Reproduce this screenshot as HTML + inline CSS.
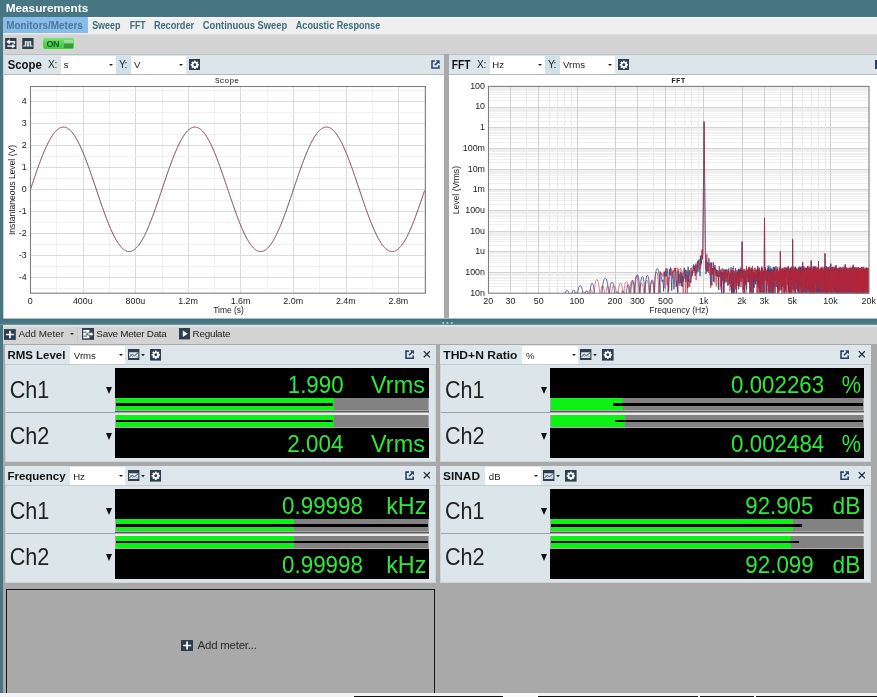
<!DOCTYPE html>
<html><head><meta charset="utf-8"><title>Measurements</title>
<style>
html,body{margin:0;padding:0;}
body{width:877px;height:697px;overflow:hidden;background:#a9a9a9;font-family:"Liberation Sans",sans-serif;position:relative;}
#app{position:absolute;left:0;top:0;width:877px;height:697px;overflow:hidden;background:#a9a9a9;}
.b{position:absolute;box-sizing:border-box;}
.t{position:absolute;white-space:pre;}
svg{position:absolute;left:0;top:0;}
</style></head><body><div id="app">

<div class="b" style="left:0.00px;top:0.00px;width:877.00px;height:17.20px;background:#487783;"></div>
<span class="t" style="left:5px;top:2px;font-size:11.6px;line-height:11.6px;color:#fff;transform-origin:0 0;transform:translate(0.63px,0.18px) scaleX(1.0177);font-weight:bold;">Measurements</span>
<div class="b" style="left:0.00px;top:17.00px;width:3.00px;height:676.00px;background:#487783;"></div>
<div class="b" style="left:3.00px;top:17.20px;width:874.00px;height:16.20px;background:linear-gradient(#f8fbfc 0,#efefef 2.2px);"></div>
<div class="b" style="left:3.00px;top:17.20px;width:85.00px;height:16.20px;background:#88bcea;"></div>
<span class="t" style="left:6px;top:21px;font-size:10.2px;line-height:10.2px;color:#4f7796;transform-origin:0 0;transform:translate(0.15px,0.27px) scaleX(0.9746);font-weight:bold;">Monitors/Meters</span>
<span class="t" style="left:92px;top:21px;font-size:10.2px;line-height:10.2px;color:#3e6b7d;transform-origin:0 0;transform:translate(0.13px,0.27px) scaleX(0.8806);font-weight:bold;">Sweep</span>
<span class="t" style="left:129px;top:21px;font-size:10.2px;line-height:10.2px;color:#3e6b7d;transform-origin:0 0;transform:translate(0.64px,0.27px) scaleX(0.8435);font-weight:bold;">FFT</span>
<span class="t" style="left:153px;top:21px;font-size:10.2px;line-height:10.2px;color:#3e6b7d;transform-origin:0 0;transform:translate(0.90px,0.27px) scaleX(0.8985);font-weight:bold;">Recorder</span>
<span class="t" style="left:202px;top:21px;font-size:10.2px;line-height:10.2px;color:#3e6b7d;transform-origin:0 0;transform:translate(0.82px,0.27px) scaleX(0.9210);font-weight:bold;">Continuous Sweep</span>
<span class="t" style="left:295px;top:21px;font-size:10.2px;line-height:10.2px;color:#3e6b7d;transform-origin:0 0;transform:translate(0.77px,0.27px) scaleX(0.8932);font-weight:bold;">Acoustic Response</span>
<div class="b" style="left:3.00px;top:33.40px;width:874.00px;height:21.00px;background:linear-gradient(#f0f0f0 0,#d3d3d3 2.6px);"></div>
<svg style="left:5.1px;top:38.2px" width="11.6" height="11.3" viewBox="0 0 12 12"><rect width="12" height="12" fill="#2c3e50"/><path d="M3 4H9.8V6.4" stroke="#fff" stroke-width="1.5" fill="none"/><path d="M4.8 1.2L1.2 4L4.8 6.8Z" fill="#fff"/><path d="M9.2 8.6H2.2" stroke="#fff" stroke-width="1.5" fill="none"/><path d="M7.4 6L11 8.6L7.4 11.2Z" fill="#fff"/></svg>
<svg style="left:22.1px;top:38.2px" width="11.8" height="11.3" viewBox="0 0 12 12"><rect width="12" height="12" fill="#2c3e50"/><path d="M1.2 8.4H3.3V3.9H5.3V8.4H6.9V3.9H8.9V8.4H10.8" stroke="#fff" stroke-width="1.1" fill="none"/></svg>
<div class="b" style="left:41.8px;top:37.8px;width:33.6px;height:11.8px;background:#bfe9bd;border-radius:3px;"></div>
<div class="b" style="left:42.6px;top:38.4px;width:31.8px;height:10.6px;background:linear-gradient(#7fe07c,#52cf52 55%,#48c848);border-radius:2px;"></div>
<div class="b" style="left:63.7px;top:40.3px;width:9.7px;height:7.7px;background:linear-gradient(#a3e29e 0,#8fd98a 40%,#3f9f40 46%,#3a973b 100%);"></div>
<span class="t" style="left:46.4px;top:39.7px;font-size:9px;line-height:9px;font-weight:bold;color:#0d5a1a;letter-spacing:-0.3px;">ON</span>
<div class="b" style="left:4.40px;top:54.40px;width:440.10px;height:263.80px;background:#fff;"></div>
<div class="b" style="left:4.40px;top:54.40px;width:440.10px;height:20.60px;background:#dce6ea;border-bottom:1px solid #b2babd;border-top:1px solid #b9c0c3;"></div>
<span class="t" style="left:7px;top:58px;font-size:12.4px;line-height:12.4px;color:#111;transform-origin:0 0;transform:translate(0.66px,0.50px) scaleX(0.9177);font-weight:bold;">Scope</span>
<span class="t" style="left:47px;top:59px;font-size:10.2px;line-height:10.2px;color:#222;transform:translate(0.95px,0.67px);letter-spacing:-0.215px;">X:</span>
<div class="b" style="left:60.50px;top:56.40px;width:55.50px;height:17.90px;background:#fff;"></div>
<span class="t" style="left:63px;top:60px;font-size:9.6px;line-height:9.6px;color:#222;transform:translate(0.71px,0.27px);">s</span>
<div class="b" style="left:109.2px;top:63.8px;width:0;height:0;border-left:2px solid transparent;border-right:2px solid transparent;border-top:2.5px solid #222;"></div>
<div class="b" style="left:116.00px;top:56.40px;width:14.50px;height:17.90px;background:#d1e1ea;"></div>
<span class="t" style="left:118px;top:59px;font-size:10.2px;line-height:10.2px;color:#222;transform:translate(0.95px,0.67px);letter-spacing:-0.754px;">Y:</span>
<div class="b" style="left:130.50px;top:56.40px;width:55.50px;height:17.90px;background:#fff;"></div>
<span class="t" style="left:133px;top:60px;font-size:9.6px;line-height:9.6px;color:#222;transform:translate(0.95px,0.27px);">V</span>
<div class="b" style="left:179.2px;top:63.8px;width:0;height:0;border-left:2px solid transparent;border-right:2px solid transparent;border-top:2.5px solid #222;"></div>
<svg style="left:188.8px;top:58.9px" width="11.6" height="11.6" viewBox="0 0 12 12"><rect width="12" height="12" fill="#2c3e50"/><rect x="5.1" y="1.7" width="1.8" height="8.6" fill="#fff" transform="rotate(0 6 6)"/><rect x="5.1" y="1.7" width="1.8" height="8.6" fill="#fff" transform="rotate(45 6 6)"/><rect x="5.1" y="1.7" width="1.8" height="8.6" fill="#fff" transform="rotate(90 6 6)"/><rect x="5.1" y="1.7" width="1.8" height="8.6" fill="#fff" transform="rotate(135 6 6)"/><circle cx="6" cy="6" r="3.2" fill="#fff"/><circle cx="6" cy="6" r="1.5" fill="#2c3e50"/></svg>
<div class="b" style="left:448.50px;top:54.40px;width:430.00px;height:263.80px;background:#fff;"></div>
<div class="b" style="left:448.50px;top:54.40px;width:430.00px;height:20.60px;background:#dce6ea;border-bottom:1px solid #b2babd;border-top:1px solid #b9c0c3;"></div>
<span class="t" style="left:451px;top:58px;font-size:12.4px;line-height:12.4px;color:#111;transform-origin:0 0;transform:translate(0.84px,0.50px) scaleX(0.8179);font-weight:bold;">FFT</span>
<span class="t" style="left:476px;top:59px;font-size:10.2px;line-height:10.2px;color:#222;transform:translate(0.94px,0.67px);letter-spacing:-0.215px;">X:</span>
<div class="b" style="left:489.50px;top:56.40px;width:55.50px;height:17.90px;background:#fff;"></div>
<span class="t" style="left:492px;top:60px;font-size:9.6px;line-height:9.6px;color:#222;transform:translate(0.23px,0.27px);">Hz</span>
<div class="b" style="left:538.2px;top:63.8px;width:0;height:0;border-left:2px solid transparent;border-right:2px solid transparent;border-top:2.5px solid #222;"></div>
<div class="b" style="left:545.00px;top:56.40px;width:14.50px;height:17.90px;background:#d1e1ea;"></div>
<span class="t" style="left:547px;top:59px;font-size:10.2px;line-height:10.2px;color:#222;transform:translate(0.95px,0.67px);letter-spacing:-0.754px;">Y:</span>
<div class="b" style="left:559.50px;top:56.40px;width:55.50px;height:17.90px;background:#fff;"></div>
<span class="t" style="left:562px;top:60px;font-size:9.6px;line-height:9.6px;color:#222;transform:translate(0.95px,0.27px);">Vrms</span>
<div class="b" style="left:608.2px;top:63.8px;width:0;height:0;border-left:2px solid transparent;border-right:2px solid transparent;border-top:2.5px solid #222;"></div>
<svg style="left:617.8px;top:58.9px" width="11.6" height="11.6" viewBox="0 0 12 12"><rect width="12" height="12" fill="#2c3e50"/><rect x="5.1" y="1.7" width="1.8" height="8.6" fill="#fff" transform="rotate(0 6 6)"/><rect x="5.1" y="1.7" width="1.8" height="8.6" fill="#fff" transform="rotate(45 6 6)"/><rect x="5.1" y="1.7" width="1.8" height="8.6" fill="#fff" transform="rotate(90 6 6)"/><rect x="5.1" y="1.7" width="1.8" height="8.6" fill="#fff" transform="rotate(135 6 6)"/><circle cx="6" cy="6" r="3.2" fill="#fff"/><circle cx="6" cy="6" r="1.5" fill="#2c3e50"/></svg>
<svg style="left:430.5px;top:60.4px" width="9.0" height="9.0" viewBox="0 0 10 10"><path d="M4.2 1.2H1.1V8.9H8.8V5.8" fill="none" stroke="#284068" stroke-width="1.7"/><path d="M4.3 5.7L8.6 1.4" stroke="#284068" stroke-width="1.7" fill="none"/><path d="M5.3 0.4H9.6V4.7Z" fill="#284068"/></svg>
<div class="b" style="left:875.00px;top:60.00px;width:2.00px;height:8.80px;background:#284068;"></div>
<div class="b" style="left:3.00px;top:54.00px;width:1.40px;height:265.00px;background:#c3d3d9;"></div>
<div class="b" style="left:3.00px;top:318.00px;width:874.00px;height:1.00px;background:#b4babd;"></div>
<div class="b" style="left:0.00px;top:319.00px;width:877.00px;height:6.00px;background:linear-gradient(#42707c 0,#4d7b88 5px,#86a6b0 6px);"></div>
<div class="b" style="left:3.00px;top:325.00px;width:874.00px;height:19.20px;background:#d3d3d3;border-top:2px solid #dde5e8;"></div>
<span class="t" style="left:18px;top:328px;font-size:9.9px;line-height:9.9px;color:#222;transform:translate(0.50px,0.62px);">Add Meter</span>
<span class="t" style="left:96px;top:328px;font-size:9.9px;line-height:9.9px;color:#222;transform:translate(0.35px,0.62px);letter-spacing:-0.257px;">Save Meter Data</span>
<span class="t" style="left:192px;top:328px;font-size:9.9px;line-height:9.9px;color:#222;transform:translate(0.51px,0.62px);letter-spacing:-0.238px;">Regulate</span>
<div class="b" style="left:69.5px;top:333px;width:0;height:0;border-left:2.2px solid transparent;border-right:2.2px solid transparent;border-top:2.6px solid #222;"></div>
<div class="b" style="left:77.00px;top:327.00px;width:1.00px;height:15.00px;background:#c8c8c8;"></div>
<svg style="left:4px;top:328.5px" width="11.8" height="11" viewBox="0 0 12 11"><rect width="12" height="11" fill="#2c3e50"/><path d="M6 1.6V9.4M2 5.5H10" stroke="#fff" stroke-width="1.7"/></svg>
<svg style="left:82px;top:328px" width="12" height="11.8" viewBox="0 0 12 11.8"><rect width="12" height="11.8" fill="#2c3e50"/><rect x="1.2" y="1.9" width="6.2" height="8.4" fill="#fff"/><path d="M1.2 4.2H4.6M3.4 6.2H7.4M1.2 8.1H5.2" stroke="#2c3e50" stroke-width="0.9"/><path d="M5.6 5H8.4V3.2L11.6 6.1L8.4 9V7.2H5.6Z" fill="#fff" stroke="#2c3e50" stroke-width="0.7"/></svg>
<svg style="left:179px;top:328.2px" width="11.4" height="11.4" viewBox="0 0 12 12"><rect width="12" height="12" fill="#2c3e50"/><path d="M4 2.6L9.2 6L4 9.4Z" fill="#fff"/></svg>
<div class="b" style="left:4.60px;top:345.00px;width:431.30px;height:117.30px;background:#dce6ea;border:1px solid #ccd6da;"></div>
<div class="b" style="left:4.60px;top:345.00px;width:431.30px;height:20.20px;background:#dde7eb;border-bottom:1px solid #c3cdd1;"></div>
<span class="t" style="left:7px;top:349px;font-size:11.2px;line-height:11.2px;color:#111;transform-origin:0 0;transform:translate(0.45px,0.72px) scaleX(1.0243);font-weight:bold;">RMS Level</span>
<div class="b" style="left:69.90px;top:346.10px;width:55.60px;height:17.60px;background:#fff;"></div>
<span class="t" style="left:73px;top:350px;font-size:9.6px;line-height:9.6px;color:#222;transform:translate(0.85px,0.77px);">Vrms</span>
<div class="b" style="left:119.1px;top:354.1px;width:0;height:0;border-left:2px solid transparent;border-right:2px solid transparent;border-top:2.4px solid #222;"></div>
<svg style="left:127.9px;top:349.0px" width="17" height="11" viewBox="0 0 17 11"><rect width="11.4" height="11" fill="#2c3e50"/><rect x="1.1" y="3.3" width="9.2" height="5.6" fill="#e8f0f6"/><path d="M1.3 8.2L4.3 5L6.2 6.8L10 3.9" stroke="#2c3e50" stroke-width="0.9" fill="none"/><path d="M1.3 4.4L4.6 7.6L6.6 6L10 8.3" stroke="#6f86a0" stroke-width="0.7" fill="none"/><path d="M13.2 4.9h3.6l-1.8 2.4z" fill="#1a1a1a"/></svg>
<svg style="left:149.9px;top:349.1px" width="11.6" height="11.6" viewBox="0 0 12 12"><rect width="12" height="12" fill="#2c3e50"/><rect x="5.1" y="1.7" width="1.8" height="8.6" fill="#fff" transform="rotate(0 6 6)"/><rect x="5.1" y="1.7" width="1.8" height="8.6" fill="#fff" transform="rotate(45 6 6)"/><rect x="5.1" y="1.7" width="1.8" height="8.6" fill="#fff" transform="rotate(90 6 6)"/><rect x="5.1" y="1.7" width="1.8" height="8.6" fill="#fff" transform="rotate(135 6 6)"/><circle cx="6" cy="6" r="3.2" fill="#fff"/><circle cx="6" cy="6" r="1.5" fill="#2c3e50"/></svg>
<svg style="left:404.6px;top:349.8px" width="9.3" height="9.3" viewBox="0 0 10 10"><path d="M4.2 1.2H1.1V8.9H8.8V5.8" fill="none" stroke="#284068" stroke-width="1.7"/><path d="M4.3 5.7L8.6 1.4" stroke="#284068" stroke-width="1.7" fill="none"/><path d="M5.3 0.4H9.6V4.7Z" fill="#284068"/></svg>
<svg style="left:422.5px;top:350.1px" width="7.7" height="8.47" viewBox="0 0 10 10"><path d="M1 1L9 9M9 1L1 9" stroke="#1c2c3c" stroke-width="1.7" fill="none"/></svg>
<div class="b" style="left:115.10px;top:367.60px;width:313.90px;height:90.60px;background:#000;"></div>
<div class="b" style="left:5.60px;top:412.40px;width:109.50px;height:1.00px;background:#9aa4a8;"></div>
<div class="b" style="left:115.10px;top:397.70px;width:313.90px;height:29.90px;background:#a8a8a8;"></div>
<div class="b" style="left:116.00px;top:398.30px;width:311.50px;height:11.90px;background:#828282;"></div>
<div class="b" style="left:116.00px;top:398.30px;width:217.60px;height:11.90px;background:#0cf214;"></div>
<div class="b" style="left:116.00px;top:402.95px;width:217.20px;height:2.60px;background:#000;"></div>
<span class="t" style="left:287px;top:372px;font-size:24.0px;line-height:24.0px;color:#2fe83c;transform-origin:0 0;transform:translate(0.73px,0.98px) scaleX(0.9292);">1.990</span>
<span class="t" style="left:371px;top:372px;font-size:24.0px;line-height:24.0px;color:#2fe83c;transform-origin:0 0;transform:translate(0.08px,0.98px) scaleX(0.9756);">Vrms</span>
<span class="t" style="left:9px;top:378px;font-size:23.6px;line-height:23.6px;color:#222;transform-origin:0 0;transform:translate(0.72px,0.62px) scaleX(0.9132);">Ch1</span>
<div class="b" style="left:105.6px;top:386.8px;width:0;height:0;border-left:3.9px solid transparent;border-right:3.9px solid transparent;border-top:7.8px solid #111;"></div>
<div class="b" style="left:116.00px;top:415.10px;width:311.50px;height:11.90px;background:#828282;"></div>
<div class="b" style="left:116.00px;top:415.10px;width:217.60px;height:11.90px;background:#0cf214;"></div>
<div class="b" style="left:116.00px;top:419.75px;width:217.20px;height:2.60px;background:#000;"></div>
<span class="t" style="left:287px;top:431px;font-size:24.0px;line-height:24.0px;color:#2fe83c;transform-origin:0 0;transform:translate(0.28px,0.88px) scaleX(0.9349);">2.004</span>
<span class="t" style="left:371px;top:431px;font-size:24.0px;line-height:24.0px;color:#2fe83c;transform-origin:0 0;transform:translate(0.08px,0.88px) scaleX(0.9756);">Vrms</span>
<span class="t" style="left:9px;top:424px;font-size:23.6px;line-height:23.6px;color:#222;transform-origin:0 0;transform:translate(0.72px,0.92px) scaleX(0.9158);">Ch2</span>
<div class="b" style="left:105.6px;top:433.1px;width:0;height:0;border-left:3.9px solid transparent;border-right:3.9px solid transparent;border-top:7.8px solid #111;"></div>
<div class="b" style="left:115.10px;top:411.10px;width:313.90px;height:1.30px;background:#5a5a5a;"></div>
<div class="b" style="left:115.10px;top:412.60px;width:313.90px;height:2.20px;background:#e9e9e9;"></div>
<div class="b" style="left:439.80px;top:345.00px;width:431.30px;height:117.30px;background:#dce6ea;border:1px solid #ccd6da;"></div>
<div class="b" style="left:439.80px;top:345.00px;width:431.30px;height:20.20px;background:#dde7eb;border-bottom:1px solid #c3cdd1;"></div>
<span class="t" style="left:443px;top:349px;font-size:11.2px;line-height:11.2px;color:#111;transform-origin:0 0;transform:translate(0.28px,0.72px) scaleX(1.0791);font-weight:bold;">THD+N Ratio</span>
<div class="b" style="left:522.40px;top:346.10px;width:55.60px;height:17.60px;background:#fff;"></div>
<span class="t" style="left:526px;top:350px;font-size:9.6px;line-height:9.6px;color:#222;transform:translate(0.06px,0.77px);">%</span>
<div class="b" style="left:571.6px;top:354.1px;width:0;height:0;border-left:2px solid transparent;border-right:2px solid transparent;border-top:2.4px solid #222;"></div>
<svg style="left:580.4px;top:349.0px" width="17" height="11" viewBox="0 0 17 11"><rect width="11.4" height="11" fill="#2c3e50"/><rect x="1.1" y="3.3" width="9.2" height="5.6" fill="#e8f0f6"/><path d="M1.3 8.2L4.3 5L6.2 6.8L10 3.9" stroke="#2c3e50" stroke-width="0.9" fill="none"/><path d="M1.3 4.4L4.6 7.6L6.6 6L10 8.3" stroke="#6f86a0" stroke-width="0.7" fill="none"/><path d="M13.2 4.9h3.6l-1.8 2.4z" fill="#1a1a1a"/></svg>
<svg style="left:602.4px;top:349.1px" width="11.6" height="11.6" viewBox="0 0 12 12"><rect width="12" height="12" fill="#2c3e50"/><rect x="5.1" y="1.7" width="1.8" height="8.6" fill="#fff" transform="rotate(0 6 6)"/><rect x="5.1" y="1.7" width="1.8" height="8.6" fill="#fff" transform="rotate(45 6 6)"/><rect x="5.1" y="1.7" width="1.8" height="8.6" fill="#fff" transform="rotate(90 6 6)"/><rect x="5.1" y="1.7" width="1.8" height="8.6" fill="#fff" transform="rotate(135 6 6)"/><circle cx="6" cy="6" r="3.2" fill="#fff"/><circle cx="6" cy="6" r="1.5" fill="#2c3e50"/></svg>
<svg style="left:839.8px;top:349.8px" width="9.3" height="9.3" viewBox="0 0 10 10"><path d="M4.2 1.2H1.1V8.9H8.8V5.8" fill="none" stroke="#284068" stroke-width="1.7"/><path d="M4.3 5.7L8.6 1.4" stroke="#284068" stroke-width="1.7" fill="none"/><path d="M5.3 0.4H9.6V4.7Z" fill="#284068"/></svg>
<svg style="left:857.7px;top:350.1px" width="7.7" height="8.47" viewBox="0 0 10 10"><path d="M1 1L9 9M9 1L1 9" stroke="#1c2c3c" stroke-width="1.7" fill="none"/></svg>
<div class="b" style="left:550.30px;top:367.60px;width:313.90px;height:90.60px;background:#000;"></div>
<div class="b" style="left:440.80px;top:412.40px;width:109.50px;height:1.00px;background:#9aa4a8;"></div>
<div class="b" style="left:550.30px;top:397.70px;width:313.90px;height:29.90px;background:#a8a8a8;"></div>
<div class="b" style="left:551.20px;top:398.30px;width:311.50px;height:11.90px;background:#828282;"></div>
<div class="b" style="left:551.20px;top:398.30px;width:71.80px;height:11.90px;background:#0cf214;"></div>
<div class="b" style="left:612.60px;top:402.95px;width:250.60px;height:2.60px;background:#000;"></div>
<span class="t" style="left:731px;top:372px;font-size:24.0px;line-height:24.0px;color:#2fe83c;transform-origin:0 0;transform:translate(0.11px,0.98px) scaleX(0.9291);">0.002263</span>
<span class="t" style="left:841px;top:372px;font-size:24.0px;line-height:24.0px;color:#2fe83c;transform-origin:0 0;transform:translate(0.84px,0.98px) scaleX(0.9045);">%</span>
<span class="t" style="left:444px;top:378px;font-size:23.6px;line-height:23.6px;color:#222;transform-origin:0 0;transform:translate(0.92px,0.62px) scaleX(0.9132);">Ch1</span>
<div class="b" style="left:540.8px;top:386.8px;width:0;height:0;border-left:3.9px solid transparent;border-right:3.9px solid transparent;border-top:7.8px solid #111;"></div>
<div class="b" style="left:551.20px;top:415.10px;width:311.50px;height:11.90px;background:#828282;"></div>
<div class="b" style="left:551.20px;top:415.10px;width:73.80px;height:11.90px;background:#0cf214;"></div>
<div class="b" style="left:615.00px;top:419.75px;width:248.20px;height:2.60px;background:#000;"></div>
<span class="t" style="left:731px;top:431px;font-size:24.0px;line-height:24.0px;color:#2fe83c;transform-origin:0 0;transform:translate(0.11px,0.88px) scaleX(0.9309);">0.002484</span>
<span class="t" style="left:841px;top:431px;font-size:24.0px;line-height:24.0px;color:#2fe83c;transform-origin:0 0;transform:translate(0.84px,0.88px) scaleX(0.9045);">%</span>
<span class="t" style="left:444px;top:424px;font-size:23.6px;line-height:23.6px;color:#222;transform-origin:0 0;transform:translate(0.92px,0.92px) scaleX(0.9158);">Ch2</span>
<div class="b" style="left:540.8px;top:433.1px;width:0;height:0;border-left:3.9px solid transparent;border-right:3.9px solid transparent;border-top:7.8px solid #111;"></div>
<div class="b" style="left:550.30px;top:411.10px;width:313.90px;height:1.30px;background:#5a5a5a;"></div>
<div class="b" style="left:550.30px;top:412.60px;width:313.90px;height:2.20px;background:#e9e9e9;"></div>
<div class="b" style="left:4.60px;top:466.00px;width:431.30px;height:117.30px;background:#dce6ea;border:1px solid #ccd6da;"></div>
<div class="b" style="left:4.60px;top:466.00px;width:431.30px;height:20.20px;background:#dde7eb;border-bottom:1px solid #c3cdd1;"></div>
<span class="t" style="left:7px;top:470px;font-size:11.2px;line-height:11.2px;color:#111;transform-origin:0 0;transform:translate(0.45px,0.72px) scaleX(1.0263);font-weight:bold;">Frequency</span>
<div class="b" style="left:69.90px;top:467.10px;width:55.60px;height:17.60px;background:#fff;"></div>
<span class="t" style="left:73px;top:471px;font-size:9.6px;line-height:9.6px;color:#222;transform:translate(0.13px,0.77px);">Hz</span>
<div class="b" style="left:119.1px;top:475.1px;width:0;height:0;border-left:2px solid transparent;border-right:2px solid transparent;border-top:2.4px solid #222;"></div>
<svg style="left:127.9px;top:470.0px" width="17" height="11" viewBox="0 0 17 11"><rect width="11.4" height="11" fill="#2c3e50"/><rect x="1.1" y="3.3" width="9.2" height="5.6" fill="#e8f0f6"/><path d="M1.3 8.2L4.3 5L6.2 6.8L10 3.9" stroke="#2c3e50" stroke-width="0.9" fill="none"/><path d="M1.3 4.4L4.6 7.6L6.6 6L10 8.3" stroke="#6f86a0" stroke-width="0.7" fill="none"/><path d="M13.2 4.9h3.6l-1.8 2.4z" fill="#1a1a1a"/></svg>
<svg style="left:149.9px;top:470.1px" width="11.6" height="11.6" viewBox="0 0 12 12"><rect width="12" height="12" fill="#2c3e50"/><rect x="5.1" y="1.7" width="1.8" height="8.6" fill="#fff" transform="rotate(0 6 6)"/><rect x="5.1" y="1.7" width="1.8" height="8.6" fill="#fff" transform="rotate(45 6 6)"/><rect x="5.1" y="1.7" width="1.8" height="8.6" fill="#fff" transform="rotate(90 6 6)"/><rect x="5.1" y="1.7" width="1.8" height="8.6" fill="#fff" transform="rotate(135 6 6)"/><circle cx="6" cy="6" r="3.2" fill="#fff"/><circle cx="6" cy="6" r="1.5" fill="#2c3e50"/></svg>
<svg style="left:404.6px;top:470.8px" width="9.3" height="9.3" viewBox="0 0 10 10"><path d="M4.2 1.2H1.1V8.9H8.8V5.8" fill="none" stroke="#284068" stroke-width="1.7"/><path d="M4.3 5.7L8.6 1.4" stroke="#284068" stroke-width="1.7" fill="none"/><path d="M5.3 0.4H9.6V4.7Z" fill="#284068"/></svg>
<svg style="left:422.5px;top:471.1px" width="7.7" height="8.47" viewBox="0 0 10 10"><path d="M1 1L9 9M9 1L1 9" stroke="#1c2c3c" stroke-width="1.7" fill="none"/></svg>
<div class="b" style="left:115.10px;top:488.60px;width:313.90px;height:90.60px;background:#000;"></div>
<div class="b" style="left:5.60px;top:533.40px;width:109.50px;height:1.00px;background:#9aa4a8;"></div>
<div class="b" style="left:115.10px;top:518.70px;width:313.90px;height:29.90px;background:#a8a8a8;"></div>
<div class="b" style="left:116.00px;top:519.30px;width:311.50px;height:11.90px;background:#828282;"></div>
<div class="b" style="left:116.00px;top:519.30px;width:177.90px;height:11.90px;background:#0cf214;"></div>
<div class="b" style="left:116.00px;top:523.95px;width:312.00px;height:2.60px;background:#000;"></div>
<span class="t" style="left:282px;top:493px;font-size:24.0px;line-height:24.0px;color:#2fe83c;transform-origin:0 0;transform:translate(0.11px,0.98px) scaleX(0.9312);">0.99998</span>
<span class="t" style="left:386px;top:493px;font-size:24.0px;line-height:24.0px;color:#2fe83c;transform-origin:0 0;transform:translate(0.18px,0.98px) scaleX(0.9735);">kHz</span>
<span class="t" style="left:9px;top:499px;font-size:23.6px;line-height:23.6px;color:#222;transform-origin:0 0;transform:translate(0.72px,0.62px) scaleX(0.9132);">Ch1</span>
<div class="b" style="left:105.6px;top:507.8px;width:0;height:0;border-left:3.9px solid transparent;border-right:3.9px solid transparent;border-top:7.8px solid #111;"></div>
<div class="b" style="left:116.00px;top:536.10px;width:311.50px;height:11.90px;background:#828282;"></div>
<div class="b" style="left:116.00px;top:536.10px;width:177.90px;height:11.90px;background:#0cf214;"></div>
<div class="b" style="left:116.00px;top:540.75px;width:312.00px;height:2.60px;background:#000;"></div>
<span class="t" style="left:282px;top:552px;font-size:24.0px;line-height:24.0px;color:#2fe83c;transform-origin:0 0;transform:translate(0.11px,0.88px) scaleX(0.9312);">0.99998</span>
<span class="t" style="left:386px;top:552px;font-size:24.0px;line-height:24.0px;color:#2fe83c;transform-origin:0 0;transform:translate(0.18px,0.88px) scaleX(0.9735);">kHz</span>
<span class="t" style="left:9px;top:545px;font-size:23.6px;line-height:23.6px;color:#222;transform-origin:0 0;transform:translate(0.72px,0.92px) scaleX(0.9158);">Ch2</span>
<div class="b" style="left:105.6px;top:554.1px;width:0;height:0;border-left:3.9px solid transparent;border-right:3.9px solid transparent;border-top:7.8px solid #111;"></div>
<div class="b" style="left:115.10px;top:532.10px;width:313.90px;height:1.30px;background:#5a5a5a;"></div>
<div class="b" style="left:115.10px;top:533.60px;width:313.90px;height:2.20px;background:#e9e9e9;"></div>
<div class="b" style="left:439.80px;top:466.00px;width:431.30px;height:117.30px;background:#dce6ea;border:1px solid #ccd6da;"></div>
<div class="b" style="left:439.80px;top:466.00px;width:431.30px;height:20.20px;background:#dde7eb;border-bottom:1px solid #c3cdd1;"></div>
<span class="t" style="left:443px;top:470px;font-size:11.2px;line-height:11.2px;color:#111;transform-origin:0 0;transform:translate(0.04px,0.72px) scaleX(1.0603);font-weight:bold;">SINAD</span>
<div class="b" style="left:485.20px;top:467.10px;width:55.60px;height:17.60px;background:#fff;"></div>
<span class="t" style="left:488px;top:471px;font-size:9.6px;line-height:9.6px;color:#222;transform:translate(0.82px,0.77px);">dB</span>
<div class="b" style="left:534.4px;top:475.1px;width:0;height:0;border-left:2px solid transparent;border-right:2px solid transparent;border-top:2.4px solid #222;"></div>
<svg style="left:543.2px;top:470.0px" width="17" height="11" viewBox="0 0 17 11"><rect width="11.4" height="11" fill="#2c3e50"/><rect x="1.1" y="3.3" width="9.2" height="5.6" fill="#e8f0f6"/><path d="M1.3 8.2L4.3 5L6.2 6.8L10 3.9" stroke="#2c3e50" stroke-width="0.9" fill="none"/><path d="M1.3 4.4L4.6 7.6L6.6 6L10 8.3" stroke="#6f86a0" stroke-width="0.7" fill="none"/><path d="M13.2 4.9h3.6l-1.8 2.4z" fill="#1a1a1a"/></svg>
<svg style="left:565.2px;top:470.1px" width="11.6" height="11.6" viewBox="0 0 12 12"><rect width="12" height="12" fill="#2c3e50"/><rect x="5.1" y="1.7" width="1.8" height="8.6" fill="#fff" transform="rotate(0 6 6)"/><rect x="5.1" y="1.7" width="1.8" height="8.6" fill="#fff" transform="rotate(45 6 6)"/><rect x="5.1" y="1.7" width="1.8" height="8.6" fill="#fff" transform="rotate(90 6 6)"/><rect x="5.1" y="1.7" width="1.8" height="8.6" fill="#fff" transform="rotate(135 6 6)"/><circle cx="6" cy="6" r="3.2" fill="#fff"/><circle cx="6" cy="6" r="1.5" fill="#2c3e50"/></svg>
<svg style="left:839.8px;top:470.8px" width="9.3" height="9.3" viewBox="0 0 10 10"><path d="M4.2 1.2H1.1V8.9H8.8V5.8" fill="none" stroke="#284068" stroke-width="1.7"/><path d="M4.3 5.7L8.6 1.4" stroke="#284068" stroke-width="1.7" fill="none"/><path d="M5.3 0.4H9.6V4.7Z" fill="#284068"/></svg>
<svg style="left:857.7px;top:471.1px" width="7.7" height="8.47" viewBox="0 0 10 10"><path d="M1 1L9 9M9 1L1 9" stroke="#1c2c3c" stroke-width="1.7" fill="none"/></svg>
<div class="b" style="left:550.30px;top:488.60px;width:313.90px;height:90.60px;background:#000;"></div>
<div class="b" style="left:440.80px;top:533.40px;width:109.50px;height:1.00px;background:#9aa4a8;"></div>
<div class="b" style="left:550.30px;top:518.70px;width:313.90px;height:29.90px;background:#a8a8a8;"></div>
<div class="b" style="left:551.20px;top:519.30px;width:311.50px;height:11.90px;background:#828282;"></div>
<div class="b" style="left:551.20px;top:519.30px;width:241.80px;height:11.90px;background:#0cf214;"></div>
<div class="b" style="left:551.30px;top:523.95px;width:250.40px;height:2.60px;background:#000;"></div>
<span class="t" style="left:745px;top:493px;font-size:24.0px;line-height:24.0px;color:#2fe83c;transform-origin:0 0;transform:translate(0.30px,0.98px) scaleX(0.9258);">92.905</span>
<span class="t" style="left:832px;top:493px;font-size:24.0px;line-height:24.0px;color:#2fe83c;transform-origin:0 0;transform:translate(0.59px,0.98px) scaleX(0.9476);">dB</span>
<span class="t" style="left:444px;top:499px;font-size:23.6px;line-height:23.6px;color:#222;transform-origin:0 0;transform:translate(0.92px,0.62px) scaleX(0.9132);">Ch1</span>
<div class="b" style="left:540.8px;top:507.8px;width:0;height:0;border-left:3.9px solid transparent;border-right:3.9px solid transparent;border-top:7.8px solid #111;"></div>
<div class="b" style="left:551.20px;top:536.10px;width:311.50px;height:11.90px;background:#828282;"></div>
<div class="b" style="left:551.20px;top:536.10px;width:240.20px;height:11.90px;background:#0cf214;"></div>
<div class="b" style="left:551.30px;top:540.75px;width:247.90px;height:2.60px;background:#000;"></div>
<span class="t" style="left:745px;top:552px;font-size:24.0px;line-height:24.0px;color:#2fe83c;transform-origin:0 0;transform:translate(0.29px,0.88px) scaleX(0.9329);">92.099</span>
<span class="t" style="left:832px;top:552px;font-size:24.0px;line-height:24.0px;color:#2fe83c;transform-origin:0 0;transform:translate(0.59px,0.88px) scaleX(0.9476);">dB</span>
<span class="t" style="left:444px;top:545px;font-size:23.6px;line-height:23.6px;color:#222;transform-origin:0 0;transform:translate(0.92px,0.92px) scaleX(0.9158);">Ch2</span>
<div class="b" style="left:540.8px;top:554.1px;width:0;height:0;border-left:3.9px solid transparent;border-right:3.9px solid transparent;border-top:7.8px solid #111;"></div>
<div class="b" style="left:550.30px;top:532.10px;width:313.90px;height:1.30px;background:#5a5a5a;"></div>
<div class="b" style="left:550.30px;top:533.60px;width:313.90px;height:2.20px;background:#e9e9e9;"></div>
<div class="b" style="left:6.20px;top:589.20px;width:428.60px;height:110.00px;background:#a9a9a9;border:1.3px solid #151515;"></div>
<span class="t" style="left:197px;top:639px;font-size:11.5px;line-height:11.5px;color:#2a2a2a;transform:translate(0.60px,0.67px);letter-spacing:-0.250px;">Add meter...</span>
<svg style="left:181.0px;top:639.7px" width="12.2" height="11.0" viewBox="0 0 12 11" preserveAspectRatio="none"><rect width="12" height="11" fill="#2c3e50"/><path d="M6 1.6V9.4M2 5.5H10" stroke="#fff" stroke-width="1.7"/></svg>
<div class="b" style="left:0.00px;top:693.00px;width:877.00px;height:4.00px;background:#f4f4f4;"></div>
<div class="b" style="left:354.00px;top:695.50px;width:148.60px;height:1.50px;background:#111;"></div>
<div class="b" style="left:538.00px;top:695.50px;width:160.30px;height:1.50px;background:#111;"></div>
<div class="b" style="left:700.00px;top:695.50px;width:54.30px;height:1.50px;background:#111;"></div>
<div class="b" style="left:756.00px;top:695.50px;width:121.00px;height:1.50px;background:#111;"></div>
<div class="b" style="left:502.60px;top:693.00px;width:35.40px;height:4.00px;background:#fafafa;"></div>
<svg width="877" height="697" viewBox="0 0 877 697" font-family="'Liberation Sans',sans-serif" style="pointer-events:none">
<line x1="56.5" y1="86.5" x2="56.5" y2="293.2" stroke="#f0f0f0" stroke-width="1"/>
<line x1="83.5" y1="86.5" x2="83.5" y2="293.2" stroke="#d9d9d9" stroke-width="1"/>
<line x1="109.5" y1="86.5" x2="109.5" y2="293.2" stroke="#f0f0f0" stroke-width="1"/>
<line x1="135.5" y1="86.5" x2="135.5" y2="293.2" stroke="#d9d9d9" stroke-width="1"/>
<line x1="162.5" y1="86.5" x2="162.5" y2="293.2" stroke="#f0f0f0" stroke-width="1"/>
<line x1="188.5" y1="86.5" x2="188.5" y2="293.2" stroke="#d9d9d9" stroke-width="1"/>
<line x1="214.5" y1="86.5" x2="214.5" y2="293.2" stroke="#f0f0f0" stroke-width="1"/>
<line x1="240.5" y1="86.5" x2="240.5" y2="293.2" stroke="#d9d9d9" stroke-width="1"/>
<line x1="267.5" y1="86.5" x2="267.5" y2="293.2" stroke="#f0f0f0" stroke-width="1"/>
<line x1="293.5" y1="86.5" x2="293.5" y2="293.2" stroke="#d9d9d9" stroke-width="1"/>
<line x1="319.5" y1="86.5" x2="319.5" y2="293.2" stroke="#f0f0f0" stroke-width="1"/>
<line x1="346.5" y1="86.5" x2="346.5" y2="293.2" stroke="#d9d9d9" stroke-width="1"/>
<line x1="372.5" y1="86.5" x2="372.5" y2="293.2" stroke="#f0f0f0" stroke-width="1"/>
<line x1="398.5" y1="86.5" x2="398.5" y2="293.2" stroke="#d9d9d9" stroke-width="1"/>
<line x1="424.5" y1="86.5" x2="424.5" y2="293.2" stroke="#f0f0f0" stroke-width="1"/>
<line x1="30.5" y1="288.5" x2="425.4" y2="288.5" stroke="#f0f0f0" stroke-width="1"/>
<line x1="30.5" y1="277.5" x2="425.4" y2="277.5" stroke="#d9d9d9" stroke-width="1"/>
<line x1="30.5" y1="266.5" x2="425.4" y2="266.5" stroke="#f0f0f0" stroke-width="1"/>
<line x1="30.5" y1="255.5" x2="425.4" y2="255.5" stroke="#d9d9d9" stroke-width="1"/>
<line x1="30.5" y1="244.5" x2="425.4" y2="244.5" stroke="#f0f0f0" stroke-width="1"/>
<line x1="30.5" y1="233.5" x2="425.4" y2="233.5" stroke="#d9d9d9" stroke-width="1"/>
<line x1="30.5" y1="222.5" x2="425.4" y2="222.5" stroke="#f0f0f0" stroke-width="1"/>
<line x1="30.5" y1="211.5" x2="425.4" y2="211.5" stroke="#d9d9d9" stroke-width="1"/>
<line x1="30.5" y1="200.5" x2="425.4" y2="200.5" stroke="#f0f0f0" stroke-width="1"/>
<line x1="30.5" y1="189.5" x2="425.4" y2="189.5" stroke="#d9d9d9" stroke-width="1"/>
<line x1="30.5" y1="178.5" x2="425.4" y2="178.5" stroke="#f0f0f0" stroke-width="1"/>
<line x1="30.5" y1="167.5" x2="425.4" y2="167.5" stroke="#d9d9d9" stroke-width="1"/>
<line x1="30.5" y1="156.5" x2="425.4" y2="156.5" stroke="#f0f0f0" stroke-width="1"/>
<line x1="30.5" y1="145.5" x2="425.4" y2="145.5" stroke="#d9d9d9" stroke-width="1"/>
<line x1="30.5" y1="134.5" x2="425.4" y2="134.5" stroke="#f0f0f0" stroke-width="1"/>
<line x1="30.5" y1="123.5" x2="425.4" y2="123.5" stroke="#d9d9d9" stroke-width="1"/>
<line x1="30.5" y1="112.5" x2="425.4" y2="112.5" stroke="#f0f0f0" stroke-width="1"/>
<line x1="30.5" y1="101.5" x2="425.4" y2="101.5" stroke="#d9d9d9" stroke-width="1"/>
<line x1="30.5" y1="90.5" x2="425.4" y2="90.5" stroke="#f0f0f0" stroke-width="1"/>
<clipPath id="c1"><rect x="30.5" y="86.5" width="394.9" height="206.7"/></clipPath>
<polyline clip-path="url(#c1)" fill="none" stroke="#844252" stroke-width="0.95" stroke-linejoin="round" points="30.50,189.30 31.50,186.33 32.50,183.36 33.50,180.41 34.50,177.47 35.50,174.57 36.50,171.69 37.50,168.86 38.50,166.08 39.50,163.34 40.50,160.67 41.50,158.06 42.50,155.53 43.50,153.07 44.50,150.69 45.50,148.40 46.50,146.21 47.50,144.11 48.50,142.12 49.50,140.23 50.50,138.45 51.50,136.80 52.50,135.26 53.50,133.84 54.50,132.56 55.50,131.40 56.50,130.37 57.50,129.48 58.50,128.72 59.50,128.10 60.50,127.63 61.50,127.29 62.50,127.09 63.50,127.04 64.50,127.13 65.50,127.36 66.50,127.73 67.50,128.24 68.50,128.90 69.50,129.69 70.50,130.61 71.50,131.67 72.50,132.86 73.50,134.18 74.50,135.63 75.50,137.20 76.50,138.89 77.50,140.69 78.50,142.60 79.50,144.62 80.50,146.74 81.50,148.96 82.50,151.27 83.50,153.67 84.50,156.15 85.50,158.71 86.50,161.33 87.50,164.02 88.50,166.77 89.50,169.56 90.50,172.41 91.50,175.29 92.50,178.20 93.50,181.14 94.50,184.10 95.50,187.07 96.50,190.04 97.50,193.01 98.50,195.98 99.50,198.93 100.50,201.85 101.50,204.75 102.50,207.61 103.50,210.43 104.50,213.21 105.50,215.93 106.50,218.58 107.50,221.17 108.50,223.69 109.50,226.13 110.50,228.49 111.50,230.75 112.50,232.92 113.50,235.00 114.50,236.96 115.50,238.82 116.50,240.57 117.50,242.20 118.50,243.71 119.50,245.09 120.50,246.35 121.50,247.47 122.50,248.46 123.50,249.32 124.50,250.04 125.50,250.63 126.50,251.07 127.50,251.37 128.50,251.53 129.50,251.55 130.50,251.43 131.50,251.16 132.50,250.75 133.50,250.21 134.50,249.52 135.50,248.70 136.50,247.74 137.50,246.64 138.50,245.42 139.50,244.07 140.50,242.59 141.50,240.99 142.50,239.28 143.50,237.45 144.50,235.51 145.50,233.46 146.50,231.31 147.50,229.07 148.50,226.74 149.50,224.32 150.50,221.82 151.50,219.25 152.50,216.61 153.50,213.90 154.50,211.14 155.50,208.33 156.50,205.48 157.50,202.59 158.50,199.67 159.50,196.73 160.50,193.77 161.50,190.80 162.50,187.82 163.50,184.85 164.50,181.89 165.50,178.94 166.50,176.02 167.50,173.13 168.50,170.28 169.50,167.47 170.50,164.71 171.50,162.01 172.50,159.37 173.50,156.79 174.50,154.29 175.50,151.87 176.50,149.54 177.50,147.30 178.50,145.15 179.50,143.10 180.50,141.16 181.50,139.33 182.50,137.62 183.50,136.02 184.50,134.54 185.50,133.19 186.50,131.96 187.50,130.87 188.50,129.91 189.50,129.08 190.50,128.40 191.50,127.85 192.50,127.44 193.50,127.17 194.50,127.05 195.50,127.07 196.50,127.23 197.50,127.53 198.50,127.97 199.50,128.55 200.50,129.27 201.50,130.13 202.50,131.12 203.50,132.25 204.50,133.50 205.50,134.89 206.50,136.39 207.50,138.02 208.50,139.77 209.50,141.63 210.50,143.59 211.50,145.66 212.50,147.83 213.50,150.10 214.50,152.46 215.50,154.89 216.50,157.41 217.50,160.00 218.50,162.66 219.50,165.38 220.50,168.15 221.50,170.97 222.50,173.83 223.50,176.73 224.50,179.66 225.50,182.61 226.50,185.57 227.50,188.54 228.50,191.52 229.50,194.49 230.50,197.45 231.50,200.38 232.50,203.30 233.50,206.18 234.50,209.02 235.50,211.82 236.50,214.57 237.50,217.26 238.50,219.88 239.50,222.44 240.50,224.92 241.50,227.31 242.50,229.63 243.50,231.85 244.50,233.97 245.50,235.99 246.50,237.90 247.50,239.71 248.50,241.39 249.50,242.96 250.50,244.41 251.50,245.73 252.50,246.92 253.50,247.98 254.50,248.91 255.50,249.70 256.50,250.35 257.50,250.87 258.50,251.24 259.50,251.47 260.50,251.56 261.50,251.51 262.50,251.31 263.50,250.98 264.50,250.50 265.50,249.88 266.50,249.13 267.50,248.24 268.50,247.21 269.50,246.05 270.50,244.76 271.50,243.35 272.50,241.81 273.50,240.15 274.50,238.38 275.50,236.50 276.50,234.50 277.50,232.41 278.50,230.21 279.50,227.92 280.50,225.55 281.50,223.09 282.50,220.55 283.50,217.94 284.50,215.27 285.50,212.54 286.50,209.75 287.50,206.92 288.50,204.05 289.50,201.14 290.50,198.21 291.50,195.26 292.50,192.29 293.50,189.32 294.50,186.34 295.50,183.38 296.50,180.42 297.50,177.49 298.50,174.58 299.50,171.71 300.50,168.88 301.50,166.09 302.50,163.36 303.50,160.69 304.50,158.08 305.50,155.54 306.50,153.08 307.50,150.70 308.50,148.41 309.50,146.22 310.50,144.12 311.50,142.13 312.50,140.24 313.50,138.46 314.50,136.81 315.50,135.27 316.50,133.85 317.50,132.56 318.50,131.40 319.50,130.37 320.50,129.48 321.50,128.73 322.50,128.11 323.50,127.63 324.50,127.29 325.50,127.10 326.50,127.04 327.50,127.13 328.50,127.36 329.50,127.73 330.50,128.24 331.50,128.89 332.50,129.68 333.50,130.61 334.50,131.67 335.50,132.86 336.50,134.18 337.50,135.62 338.50,137.19 339.50,138.88 340.50,140.68 341.50,142.59 342.50,144.61 343.50,146.73 344.50,148.95 345.50,151.26 346.50,153.66 347.50,156.14 348.50,158.69 349.50,161.32 350.50,164.00 351.50,166.75 352.50,169.55 353.50,172.39 354.50,175.27 355.50,178.18 356.50,181.12 357.50,184.08 358.50,187.05 359.50,190.02 360.50,193.00 361.50,195.96 362.50,198.91 363.50,201.84 364.50,204.74 365.50,207.60 366.50,210.42 367.50,213.19 368.50,215.91 369.50,218.57 370.50,221.16 371.50,223.68 372.50,226.12 373.50,228.48 374.50,230.74 375.50,232.91 376.50,234.99 377.50,236.95 378.50,238.81 379.50,240.56 380.50,242.19 381.50,243.70 382.50,245.08 383.50,246.34 384.50,247.47 385.50,248.46 386.50,249.32 387.50,250.04 388.50,250.62 389.50,251.07 390.50,251.37 391.50,251.53 392.50,251.55 393.50,251.43 394.50,251.16 395.50,250.76 396.50,250.21 397.50,249.52 398.50,248.70 399.50,247.74 400.50,246.65 401.50,245.43 402.50,244.08 403.50,242.60 404.50,241.00 405.50,239.29 406.50,237.46 407.50,235.52 408.50,233.47 409.50,231.33 410.50,229.08 411.50,226.75 412.50,224.33 413.50,221.83 414.50,219.26 415.50,216.62 416.50,213.92 417.50,211.16 418.50,208.35 419.50,205.50 420.50,202.61 421.50,199.69 422.50,196.74 423.50,193.78 424.50,190.81"/>
<rect x="30.5" y="86.5" width="394.90" height="206.70" fill="none" stroke="#7f7f7f" stroke-width="1.1"/>
<text x="26.60" y="279.60" font-size="8.9" text-anchor="end" fill="#222" >-4</text>
<text x="26.60" y="257.60" font-size="8.9" text-anchor="end" fill="#222" >-3</text>
<text x="26.60" y="235.60" font-size="8.9" text-anchor="end" fill="#222" >-2</text>
<text x="26.60" y="213.60" font-size="8.9" text-anchor="end" fill="#222" >-1</text>
<text x="26.60" y="191.60" font-size="8.9" text-anchor="end" fill="#222" >0</text>
<text x="26.60" y="169.60" font-size="8.9" text-anchor="end" fill="#222" >1</text>
<text x="26.60" y="147.60" font-size="8.9" text-anchor="end" fill="#222" >2</text>
<text x="26.60" y="125.60" font-size="8.9" text-anchor="end" fill="#222" >3</text>
<text x="26.60" y="103.60" font-size="8.9" text-anchor="end" fill="#222" >4</text>
<text x="30.20" y="304.40" font-size="8.9" text-anchor="middle" fill="#222" >0</text>
<text x="82.80" y="304.40" font-size="8.9" text-anchor="middle" fill="#222" >400u</text>
<text x="135.40" y="304.40" font-size="8.9" text-anchor="middle" fill="#222" >800u</text>
<text x="188.00" y="304.40" font-size="8.9" text-anchor="middle" fill="#222" >1.2m</text>
<text x="240.60" y="304.40" font-size="8.9" text-anchor="middle" fill="#222" >1.6m</text>
<text x="293.20" y="304.40" font-size="8.9" text-anchor="middle" fill="#222" >2.0m</text>
<text x="345.80" y="304.40" font-size="8.9" text-anchor="middle" fill="#222" >2.4m</text>
<text x="398.40" y="304.40" font-size="8.9" text-anchor="middle" fill="#222" >2.8m</text>
<text x="213.20" y="313.00" font-size="9.3" text-anchor="start" fill="#222" textLength="30.6" lengthAdjust="spacingAndGlyphs">Time (s)</text>
<text transform="translate(15.3,235.0) rotate(-90)" font-size="9.3" textLength="90.0" lengthAdjust="spacingAndGlyphs" fill="#151515">Instantaneous Level (V)</text>
<text x="227.00" y="82.90" font-size="7.7" text-anchor="middle" fill="#111" font-family="'Liberation Mono',monospace" letter-spacing="0.2">Scope</text>
<line x1="488.5" y1="286.5" x2="869.0" y2="286.5" stroke="#efefef" stroke-width="1"/>
<line x1="488.5" y1="283.5" x2="869.0" y2="283.5" stroke="#efefef" stroke-width="1"/>
<line x1="488.5" y1="280.5" x2="869.0" y2="280.5" stroke="#efefef" stroke-width="1"/>
<line x1="488.5" y1="278.5" x2="869.0" y2="278.5" stroke="#efefef" stroke-width="1"/>
<line x1="488.5" y1="277.5" x2="869.0" y2="277.5" stroke="#efefef" stroke-width="1"/>
<line x1="488.5" y1="275.5" x2="869.0" y2="275.5" stroke="#efefef" stroke-width="1"/>
<line x1="488.5" y1="274.5" x2="869.0" y2="274.5" stroke="#efefef" stroke-width="1"/>
<line x1="488.5" y1="273.5" x2="869.0" y2="273.5" stroke="#efefef" stroke-width="1"/>
<line x1="488.5" y1="266.5" x2="869.0" y2="266.5" stroke="#efefef" stroke-width="1"/>
<line x1="488.5" y1="262.5" x2="869.0" y2="262.5" stroke="#efefef" stroke-width="1"/>
<line x1="488.5" y1="260.5" x2="869.0" y2="260.5" stroke="#efefef" stroke-width="1"/>
<line x1="488.5" y1="258.5" x2="869.0" y2="258.5" stroke="#efefef" stroke-width="1"/>
<line x1="488.5" y1="256.5" x2="869.0" y2="256.5" stroke="#efefef" stroke-width="1"/>
<line x1="488.5" y1="255.5" x2="869.0" y2="255.5" stroke="#efefef" stroke-width="1"/>
<line x1="488.5" y1="253.5" x2="869.0" y2="253.5" stroke="#efefef" stroke-width="1"/>
<line x1="488.5" y1="252.5" x2="869.0" y2="252.5" stroke="#efefef" stroke-width="1"/>
<line x1="488.5" y1="245.5" x2="869.0" y2="245.5" stroke="#efefef" stroke-width="1"/>
<line x1="488.5" y1="241.5" x2="869.0" y2="241.5" stroke="#efefef" stroke-width="1"/>
<line x1="488.5" y1="239.5" x2="869.0" y2="239.5" stroke="#efefef" stroke-width="1"/>
<line x1="488.5" y1="237.5" x2="869.0" y2="237.5" stroke="#efefef" stroke-width="1"/>
<line x1="488.5" y1="235.5" x2="869.0" y2="235.5" stroke="#efefef" stroke-width="1"/>
<line x1="488.5" y1="234.5" x2="869.0" y2="234.5" stroke="#efefef" stroke-width="1"/>
<line x1="488.5" y1="233.5" x2="869.0" y2="233.5" stroke="#efefef" stroke-width="1"/>
<line x1="488.5" y1="232.5" x2="869.0" y2="232.5" stroke="#efefef" stroke-width="1"/>
<line x1="488.5" y1="224.5" x2="869.0" y2="224.5" stroke="#efefef" stroke-width="1"/>
<line x1="488.5" y1="221.5" x2="869.0" y2="221.5" stroke="#efefef" stroke-width="1"/>
<line x1="488.5" y1="218.5" x2="869.0" y2="218.5" stroke="#efefef" stroke-width="1"/>
<line x1="488.5" y1="216.5" x2="869.0" y2="216.5" stroke="#efefef" stroke-width="1"/>
<line x1="488.5" y1="215.5" x2="869.0" y2="215.5" stroke="#efefef" stroke-width="1"/>
<line x1="488.5" y1="213.5" x2="869.0" y2="213.5" stroke="#efefef" stroke-width="1"/>
<line x1="488.5" y1="212.5" x2="869.0" y2="212.5" stroke="#efefef" stroke-width="1"/>
<line x1="488.5" y1="211.5" x2="869.0" y2="211.5" stroke="#efefef" stroke-width="1"/>
<line x1="488.5" y1="204.5" x2="869.0" y2="204.5" stroke="#efefef" stroke-width="1"/>
<line x1="488.5" y1="200.5" x2="869.0" y2="200.5" stroke="#efefef" stroke-width="1"/>
<line x1="488.5" y1="198.5" x2="869.0" y2="198.5" stroke="#efefef" stroke-width="1"/>
<line x1="488.5" y1="196.5" x2="869.0" y2="196.5" stroke="#efefef" stroke-width="1"/>
<line x1="488.5" y1="194.5" x2="869.0" y2="194.5" stroke="#efefef" stroke-width="1"/>
<line x1="488.5" y1="193.5" x2="869.0" y2="193.5" stroke="#efefef" stroke-width="1"/>
<line x1="488.5" y1="191.5" x2="869.0" y2="191.5" stroke="#efefef" stroke-width="1"/>
<line x1="488.5" y1="190.5" x2="869.0" y2="190.5" stroke="#efefef" stroke-width="1"/>
<line x1="488.5" y1="183.5" x2="869.0" y2="183.5" stroke="#efefef" stroke-width="1"/>
<line x1="488.5" y1="179.5" x2="869.0" y2="179.5" stroke="#efefef" stroke-width="1"/>
<line x1="488.5" y1="177.5" x2="869.0" y2="177.5" stroke="#efefef" stroke-width="1"/>
<line x1="488.5" y1="175.5" x2="869.0" y2="175.5" stroke="#efefef" stroke-width="1"/>
<line x1="488.5" y1="173.5" x2="869.0" y2="173.5" stroke="#efefef" stroke-width="1"/>
<line x1="488.5" y1="172.5" x2="869.0" y2="172.5" stroke="#efefef" stroke-width="1"/>
<line x1="488.5" y1="171.5" x2="869.0" y2="171.5" stroke="#efefef" stroke-width="1"/>
<line x1="488.5" y1="170.5" x2="869.0" y2="170.5" stroke="#efefef" stroke-width="1"/>
<line x1="488.5" y1="162.5" x2="869.0" y2="162.5" stroke="#efefef" stroke-width="1"/>
<line x1="488.5" y1="159.5" x2="869.0" y2="159.5" stroke="#efefef" stroke-width="1"/>
<line x1="488.5" y1="156.5" x2="869.0" y2="156.5" stroke="#efefef" stroke-width="1"/>
<line x1="488.5" y1="154.5" x2="869.0" y2="154.5" stroke="#efefef" stroke-width="1"/>
<line x1="488.5" y1="153.5" x2="869.0" y2="153.5" stroke="#efefef" stroke-width="1"/>
<line x1="488.5" y1="151.5" x2="869.0" y2="151.5" stroke="#efefef" stroke-width="1"/>
<line x1="488.5" y1="150.5" x2="869.0" y2="150.5" stroke="#efefef" stroke-width="1"/>
<line x1="488.5" y1="149.5" x2="869.0" y2="149.5" stroke="#efefef" stroke-width="1"/>
<line x1="488.5" y1="142.5" x2="869.0" y2="142.5" stroke="#efefef" stroke-width="1"/>
<line x1="488.5" y1="138.5" x2="869.0" y2="138.5" stroke="#efefef" stroke-width="1"/>
<line x1="488.5" y1="135.5" x2="869.0" y2="135.5" stroke="#efefef" stroke-width="1"/>
<line x1="488.5" y1="133.5" x2="869.0" y2="133.5" stroke="#efefef" stroke-width="1"/>
<line x1="488.5" y1="132.5" x2="869.0" y2="132.5" stroke="#efefef" stroke-width="1"/>
<line x1="488.5" y1="130.5" x2="869.0" y2="130.5" stroke="#efefef" stroke-width="1"/>
<line x1="488.5" y1="129.5" x2="869.0" y2="129.5" stroke="#efefef" stroke-width="1"/>
<line x1="488.5" y1="128.5" x2="869.0" y2="128.5" stroke="#efefef" stroke-width="1"/>
<line x1="488.5" y1="121.5" x2="869.0" y2="121.5" stroke="#efefef" stroke-width="1"/>
<line x1="488.5" y1="117.5" x2="869.0" y2="117.5" stroke="#efefef" stroke-width="1"/>
<line x1="488.5" y1="115.5" x2="869.0" y2="115.5" stroke="#efefef" stroke-width="1"/>
<line x1="488.5" y1="113.5" x2="869.0" y2="113.5" stroke="#efefef" stroke-width="1"/>
<line x1="488.5" y1="111.5" x2="869.0" y2="111.5" stroke="#efefef" stroke-width="1"/>
<line x1="488.5" y1="110.5" x2="869.0" y2="110.5" stroke="#efefef" stroke-width="1"/>
<line x1="488.5" y1="109.5" x2="869.0" y2="109.5" stroke="#efefef" stroke-width="1"/>
<line x1="488.5" y1="108.5" x2="869.0" y2="108.5" stroke="#efefef" stroke-width="1"/>
<line x1="488.5" y1="100.5" x2="869.0" y2="100.5" stroke="#efefef" stroke-width="1"/>
<line x1="488.5" y1="97.5" x2="869.0" y2="97.5" stroke="#efefef" stroke-width="1"/>
<line x1="488.5" y1="94.5" x2="869.0" y2="94.5" stroke="#efefef" stroke-width="1"/>
<line x1="488.5" y1="92.5" x2="869.0" y2="92.5" stroke="#efefef" stroke-width="1"/>
<line x1="488.5" y1="90.5" x2="869.0" y2="90.5" stroke="#efefef" stroke-width="1"/>
<line x1="488.5" y1="89.5" x2="869.0" y2="89.5" stroke="#efefef" stroke-width="1"/>
<line x1="488.5" y1="88.5" x2="869.0" y2="88.5" stroke="#efefef" stroke-width="1"/>
<line x1="488.5" y1="87.5" x2="869.0" y2="87.5" stroke="#efefef" stroke-width="1"/>
<line x1="488.5" y1="272.5" x2="869.0" y2="272.5" stroke="#d4d4d4" stroke-width="1"/>
<line x1="488.5" y1="251.5" x2="869.0" y2="251.5" stroke="#d4d4d4" stroke-width="1"/>
<line x1="488.5" y1="231.5" x2="869.0" y2="231.5" stroke="#d4d4d4" stroke-width="1"/>
<line x1="488.5" y1="210.5" x2="869.0" y2="210.5" stroke="#d4d4d4" stroke-width="1"/>
<line x1="488.5" y1="189.5" x2="869.0" y2="189.5" stroke="#d4d4d4" stroke-width="1"/>
<line x1="488.5" y1="169.5" x2="869.0" y2="169.5" stroke="#d4d4d4" stroke-width="1"/>
<line x1="488.5" y1="148.5" x2="869.0" y2="148.5" stroke="#d4d4d4" stroke-width="1"/>
<line x1="488.5" y1="127.5" x2="869.0" y2="127.5" stroke="#d4d4d4" stroke-width="1"/>
<line x1="488.5" y1="107.5" x2="869.0" y2="107.5" stroke="#d4d4d4" stroke-width="1"/>
<line x1="526.5" y1="86.4" x2="526.5" y2="293.2" stroke="#e9e9e9" stroke-width="1"/>
<line x1="549.5" y1="86.4" x2="549.5" y2="293.2" stroke="#e9e9e9" stroke-width="1"/>
<line x1="557.5" y1="86.4" x2="557.5" y2="293.2" stroke="#e9e9e9" stroke-width="1"/>
<line x1="564.5" y1="86.4" x2="564.5" y2="293.2" stroke="#e9e9e9" stroke-width="1"/>
<line x1="571.5" y1="86.4" x2="571.5" y2="293.2" stroke="#e9e9e9" stroke-width="1"/>
<line x1="653.5" y1="86.4" x2="653.5" y2="293.2" stroke="#e9e9e9" stroke-width="1"/>
<line x1="675.5" y1="86.4" x2="675.5" y2="293.2" stroke="#e9e9e9" stroke-width="1"/>
<line x1="684.5" y1="86.4" x2="684.5" y2="293.2" stroke="#e9e9e9" stroke-width="1"/>
<line x1="691.5" y1="86.4" x2="691.5" y2="293.2" stroke="#e9e9e9" stroke-width="1"/>
<line x1="698.5" y1="86.4" x2="698.5" y2="293.2" stroke="#e9e9e9" stroke-width="1"/>
<line x1="780.5" y1="86.4" x2="780.5" y2="293.2" stroke="#e9e9e9" stroke-width="1"/>
<line x1="802.5" y1="86.4" x2="802.5" y2="293.2" stroke="#e9e9e9" stroke-width="1"/>
<line x1="811.5" y1="86.4" x2="811.5" y2="293.2" stroke="#e9e9e9" stroke-width="1"/>
<line x1="818.5" y1="86.4" x2="818.5" y2="293.2" stroke="#e9e9e9" stroke-width="1"/>
<line x1="825.5" y1="86.4" x2="825.5" y2="293.2" stroke="#e9e9e9" stroke-width="1"/>
<line x1="510.5" y1="86.4" x2="510.5" y2="293.2" stroke="#d0d0d0" stroke-width="1"/>
<line x1="538.5" y1="86.4" x2="538.5" y2="293.2" stroke="#d0d0d0" stroke-width="1"/>
<line x1="577.5" y1="86.4" x2="577.5" y2="293.2" stroke="#d0d0d0" stroke-width="1"/>
<line x1="615.5" y1="86.4" x2="615.5" y2="293.2" stroke="#d0d0d0" stroke-width="1"/>
<line x1="637.5" y1="86.4" x2="637.5" y2="293.2" stroke="#d0d0d0" stroke-width="1"/>
<line x1="665.5" y1="86.4" x2="665.5" y2="293.2" stroke="#d0d0d0" stroke-width="1"/>
<line x1="703.5" y1="86.4" x2="703.5" y2="293.2" stroke="#d0d0d0" stroke-width="1"/>
<line x1="742.5" y1="86.4" x2="742.5" y2="293.2" stroke="#d0d0d0" stroke-width="1"/>
<line x1="764.5" y1="86.4" x2="764.5" y2="293.2" stroke="#d0d0d0" stroke-width="1"/>
<line x1="792.5" y1="86.4" x2="792.5" y2="293.2" stroke="#d0d0d0" stroke-width="1"/>
<line x1="830.5" y1="86.4" x2="830.5" y2="293.2" stroke="#d0d0d0" stroke-width="1"/>
<clipPath id="c2"><rect x="488.5" y="86.4" width="380.5" height="206.79999999999998"/></clipPath>
<g clip-path="url(#c2)" fill="none" stroke-linejoin="round">
<polyline stroke="#34407e" stroke-width="0.75" points="547.15,296.2 547.62,296.2 548.09,296.2 548.56,296.2 549.03,296.2 549.50,295.0 549.97,294.1 550.43,293.6 550.90,293.4 551.37,293.6 551.84,294.1 552.31,295.0 552.78,296.2 553.25,296.2 553.72,296.2 554.19,296.2 554.66,296.2 554.66,296.2 555.12,296.2 555.58,296.2 556.04,296.2 556.49,296.2 556.95,296.0 557.41,294.9 557.87,294.1 558.33,293.6 558.79,293.3 559.25,293.3 559.70,293.6 560.16,294.1 560.62,294.9 561.08,296.0 561.54,296.2 562.00,296.2 562.45,296.2 562.91,296.2 563.37,296.2 563.37,296.2 563.82,296.2 564.27,296.2 564.73,295.5 565.18,293.4 565.63,291.9 566.08,291.0 566.53,290.4 566.98,290.3 567.43,290.4 567.88,291.0 568.34,291.9 568.79,293.4 569.24,295.5 569.69,296.2 570.14,296.2 570.59,296.2 570.59,296.2 571.06,296.2 571.53,296.2 572.00,293.6 572.47,291.7 572.94,290.5 573.41,290.0 573.88,290.0 574.35,290.5 574.82,291.7 575.29,293.6 575.76,296.2 576.23,296.2 576.70,296.2 576.70,296.2 577.18,296.2 577.66,293.6 578.14,290.3 578.62,288.2 579.10,286.8 579.57,285.9 580.05,285.5 580.53,285.5 581.01,285.9 581.49,286.8 581.97,288.2 582.44,290.3 582.92,293.6 583.40,296.2 583.88,296.2 583.88,296.2 584.34,296.2 584.80,296.2 585.27,293.8 585.73,292.0 586.19,291.0 586.65,290.7 587.11,291.0 587.58,292.0 588.04,293.8 588.50,296.2 588.96,296.2 589.42,296.2 589.42,296.2 589.87,295.2 590.32,289.3 590.77,286.2 591.22,284.4 591.67,283.4 592.12,283.1 592.57,283.4 593.02,284.4 593.47,286.2 593.92,289.3 594.37,295.2 594.82,296.2 594.82,296.2 595.28,296.2 595.73,296.2 596.18,296.2 596.64,296.2 597.09,296.2 597.54,295.6 598.00,295.2 598.45,295.2 598.90,295.6 599.35,296.2 599.81,296.2 600.26,296.2 600.71,296.2 601.17,296.2 601.62,296.2 601.62,296.2 602.07,293.1 602.53,287.0 602.99,283.7 603.44,281.5 603.90,280.0 604.35,279.1 604.81,278.6 605.27,278.4 605.72,278.6 606.18,279.1 606.63,280.0 607.09,281.5 607.54,283.7 608.00,287.0 608.46,293.1 608.91,296.2 608.91,296.2 609.39,294.9 609.88,289.0 610.36,285.8 610.84,283.9 611.32,282.7 611.81,282.2 612.29,282.2 612.77,282.7 613.25,283.9 613.74,285.8 614.22,289.0 614.70,294.9 615.18,296.2 615.18,296.2 615.68,296.2 616.17,296.2 616.67,293.6 617.16,292.1 617.65,291.7 618.15,292.1 618.64,293.6 619.14,296.2 619.63,296.2 620.13,296.2 620.13,296.2 620.60,296.2 621.07,296.2 621.54,293.9 622.01,292.1 622.48,291.1 622.95,290.8 623.42,291.1 623.89,292.1 624.36,293.9 624.84,296.2 625.31,296.2 625.78,296.2 625.78,296.2 626.25,295.2 626.73,289.5 627.20,286.6 627.68,285.1 628.16,284.7 628.63,285.1 629.11,286.6 629.58,289.5 630.06,295.2 630.53,296.2 630.53,296.2 631.01,289.9 631.49,284.2 631.97,281.6 632.44,280.4 632.92,280.4 633.40,281.6 633.88,284.2 634.35,289.9 634.83,296.2 634.83,296.2 635.29,286.2 635.75,280.4 636.21,277.4 636.67,275.7 637.13,274.9 637.58,274.9 638.04,275.7 638.50,277.4 638.96,280.4 639.42,286.2 639.88,296.2 639.88,296.2 640.34,287.9 640.80,282.0 641.26,279.0 641.72,277.3 642.18,276.6 642.64,276.6 643.10,277.3 643.56,279.0 644.02,282.0 644.48,287.9 644.94,296.2 644.94,296.2 645.43,285.9 645.92,280.1 646.41,277.3 646.90,275.8 647.39,275.4 647.87,275.8 648.36,277.3 648.85,280.1 649.34,285.9 649.83,296.2 649.83,296.2 650.29,290.4 650.76,284.6 651.23,281.7 651.69,280.3 652.16,279.8 652.63,280.3 653.09,281.7 653.56,284.6 654.03,290.4 654.49,296.2 654.49,296.2 654.95,280.5 655.41,274.6 655.88,271.5 656.34,269.7 656.80,268.7 657.26,268.4 657.72,268.7 658.18,269.7 658.64,271.5 659.10,274.6 659.56,280.5 660.02,296.2 660.15,271.5 660.86,273.1 661.56,279.2 662.25,281.9 662.93,279.7 663.61,291.4 664.28,271.8 664.94,276.3 665.59,270.4 666.23,276.5 666.87,268.1 667.50,270.4 668.12,296.2 668.74,282.1 669.35,269.3 669.95,275.2 670.54,267.3 671.13,276.2 671.72,290.7 672.29,273.2 672.86,271.4 673.43,279.8 673.99,289.3 674.54,277.9 675.09,267.9 675.63,271.6 676.17,286.8 676.70,280.7 677.23,288.1 677.75,292.3 678.27,271.1 678.78,283.5 679.29,274.1 679.79,275.5 680.29,282.9 680.78,272.0 681.27,286.0 681.76,273.0 682.24,287.0 682.72,275.9 683.19,281.9 683.66,279.8 684.12,267.7 684.58,271.0 685.04,278.8 685.50,269.8 685.94,282.0 686.39,276.3 686.83,270.3 687.27,273.1 687.71,288.2 688.14,266.7 688.57,281.9 688.99,280.2 689.42,270.2 689.83,275.8 690.25,276.2 690.66,282.8 691.07,281.6 691.48,271.4 691.88,276.3 692.28,270.7 692.68,273.5 693.08,272.0 693.47,264.4 693.86,271.0 694.24,269.6 694.63,265.5 695.01,275.4 695.39,275.9 695.76,263.7 696.14,264.9 696.51,272.4 696.88,273.4 697.24,264.7 697.61,261.0 697.97,271.9 698.33,259.8 698.68,260.7 699.04,263.9 699.39,265.7 699.74,272.3 700.09,276.2 700.43,255.7 700.77,265.9 701.12,258.3 701.45,263.6 701.79,254.6 702.13,256.2 702.46,258.9 702.79,253.9 703.12,220.8 703.45,187.7 703.77,154.6 704.09,121.6 704.41,154.6 704.73,187.7 705.05,220.8 705.37,253.9 705.68,260.8 705.99,274.1 706.30,262.3 706.61,260.6 706.92,271.7 707.22,267.5 707.53,264.4 707.83,262.4 708.13,271.1 708.43,266.6 708.73,260.0 709.02,258.2 709.31,264.3 709.61,264.4 709.90,266.2 710.19,274.5 710.47,281.4 710.76,284.9 711.04,263.3 711.33,266.7 711.61,262.7 711.89,285.5 712.17,268.5 712.45,270.8 712.72,268.0 713.00,273.8 713.27,262.3 713.54,281.5 713.81,271.4 714.08,269.3 714.35,267.1 714.62,269.8 714.88,270.4 715.15,269.5 715.41,267.7 715.67,275.7 715.93,272.5 716.19,269.5 716.45,270.0 716.71,275.9 716.96,271.2 717.22,270.1 717.47,273.9 717.72,273.3 717.97,276.6 718.22,273.8 718.47,273.5 718.72,290.0 718.96,273.1 719.21,266.4 719.45,269.9 719.70,272.0 719.94,276.4 720.18,271.9 720.42,273.8 720.66,275.6 720.90,270.5 721.13,289.6 721.37,271.7 721.61,296.2 721.84,273.6 722.07,275.1 722.30,281.2 722.54,272.4 722.77,274.9 722.99,273.4 723.22,269.1 723.45,280.3 723.68,296.2 723.90,278.9 724.13,272.6 724.35,282.4 724.57,283.9 724.79,269.4 725.01,272.8 725.23,275.6 725.45,269.6 725.67,278.1 725.89,272.8 726.10,282.5 726.32,275.8 726.54,271.0 726.75,269.2 726.96,269.8 727.17,276.5 727.39,273.8 727.60,278.4 727.81,285.7 728.02,274.9 728.22,270.5 728.43,270.4 728.64,272.2 728.84,268.4 729.05,279.6 729.25,283.9 729.46,275.5 729.66,279.7 729.86,281.9 730.06,276.0 730.26,273.3 730.46,274.9 730.66,278.4 730.86,270.5 731.06,267.2 731.26,275.5 731.45,290.5 731.65,296.2 731.84,270.0 732.04,295.1 732.23,272.2 732.42,273.9 732.62,278.6 732.81,271.2 733.00,296.2 733.19,285.7 733.38,275.4 733.57,296.2 733.76,270.6 733.94,281.0 734.13,285.4 734.32,294.2 734.50,273.2 734.69,275.5 734.87,273.2 735.06,272.9 735.24,271.0 735.42,268.1 735.60,272.5 735.79,282.5 735.97,275.1 736.15,283.4 736.33,296.2 736.51,275.2 736.68,272.2 736.86,283.4 737.04,279.8 737.22,277.6 737.39,272.4 737.57,274.6 737.74,273.4 737.92,271.6 738.09,276.3 738.27,271.2 738.44,269.4 738.61,289.3 738.78,268.8 738.95,272.1 739.13,286.1 739.30,275.4 739.47,273.3 739.63,269.3 739.80,276.7 739.97,274.0 740.14,269.9 740.31,271.1 740.47,268.5 740.64,275.3 740.81,273.0 740.97,282.3 741.14,272.1 741.30,270.8 741.46,273.1 741.63,272.1 741.79,278.6 741.95,260.0 742.11,241.4 742.27,260.0 742.43,274.4 742.60,271.2 742.76,278.3 742.91,269.3 743.07,270.2 743.23,277.5 743.39,289.7 743.55,275.6 743.70,274.2 743.86,271.5 744.02,275.0 744.17,296.2 744.33,270.9 744.48,291.7 744.64,271.1 744.79,283.7 744.95,277.9 745.10,271.2 745.25,285.4 745.40,285.0 745.56,274.6 745.71,272.1 745.86,270.5 746.01,272.5 746.16,268.5 746.46,268.4 746.61,289.4 746.76,281.6 746.91,274.5 747.20,272.0 747.49,274.5 747.64,270.4 747.93,278.5 748.08,276.6 748.37,269.5 748.51,282.1 748.80,267.8 749.08,273.9 749.23,282.4 749.51,274.8 749.65,273.5 749.79,296.2 749.93,267.7 750.21,276.2 750.35,271.0 750.77,272.5 750.90,291.5 751.18,276.0 751.31,268.2 751.45,269.0 751.59,279.9 751.86,286.3 752.13,270.8 752.26,269.5 752.53,278.4 752.66,282.8 752.93,269.0 753.20,271.3 753.33,296.2 753.46,282.7 753.72,272.5 753.85,278.2 754.11,273.3 754.24,287.8 754.37,272.0 754.63,274.7 754.89,282.6 755.01,274.4 755.27,276.8 755.52,274.4 755.65,284.4 755.78,282.3 756.03,273.1 756.15,274.4 756.28,270.3 756.53,270.2 756.65,281.2 757.02,269.4 757.15,278.4 757.39,269.0 757.51,281.7 757.64,265.9 757.88,285.8 758.00,280.9 758.12,272.0 758.36,288.4 758.48,270.6 758.72,271.2 758.84,286.3 759.08,272.5 759.20,296.2 759.43,272.6 759.67,267.8 759.79,287.0 760.02,271.6 760.25,272.5 760.37,282.9 760.60,287.7 760.72,295.9 760.95,274.6 761.06,274.0 761.17,285.1 761.40,282.3 761.52,270.5 761.63,266.7 761.97,292.0 762.08,268.3 762.31,271.5 762.42,278.1 762.64,274.6 762.75,275.8 762.97,296.2 763.08,272.3 763.19,270.4 763.30,283.3 763.52,271.9 763.74,282.7 763.96,274.7 764.07,296.2 764.18,269.6 764.39,236.7 764.50,218.1 764.72,255.3 764.93,274.8 765.04,267.1 765.25,280.2 765.35,269.3 765.46,271.8 765.67,270.9 765.78,276.1 765.88,269.6 766.09,272.4 766.20,271.5 766.51,272.1 766.61,291.0 766.82,275.2 766.92,296.2 767.02,277.3 767.13,273.1 767.33,281.2 767.43,268.5 767.64,277.8 767.74,272.8 768.04,276.4 768.14,265.7 768.24,273.1 768.44,271.6 768.54,267.3 768.64,296.2 769.04,276.2 769.14,293.6 769.44,288.3 769.63,269.4 769.83,274.7 769.93,267.8 770.12,266.3 770.41,290.4 770.70,294.5 770.80,268.9 770.89,284.3 771.18,274.9 771.37,292.4 771.46,268.5 771.75,273.6 771.94,279.3 772.22,279.4 772.31,272.1 772.40,279.0 772.50,296.2 772.78,284.5 773.05,269.5 773.24,293.7 773.33,266.8 773.51,290.6 773.60,269.4 773.88,267.6 773.97,280.7 774.33,275.2 774.42,267.3 774.69,287.1 774.78,273.3 775.04,293.4 775.13,274.5 775.40,272.7 775.57,280.1 775.75,275.9 775.84,271.4 776.01,266.0 776.27,280.9 776.36,287.1 776.45,269.6 776.79,279.8 776.88,272.5 777.22,271.7 777.31,282.9 777.39,280.6 777.48,267.3 777.73,295.5 777.98,275.8 778.07,273.3 778.32,290.8 778.40,289.4 778.49,272.6 778.82,275.1 778.90,282.0 779.15,270.5 779.23,290.6 779.40,270.9 779.64,281.9 779.81,280.2 779.89,270.9 780.13,266.8 780.21,278.1 780.37,251.8 780.62,276.9 780.78,269.9 780.86,290.1 781.17,272.5 781.25,278.9 781.33,271.4 781.41,290.4 781.65,289.8 781.81,272.0 782.04,285.3 782.20,272.0 782.35,286.9 782.43,272.2 782.66,268.6 782.82,275.7 782.90,271.0 782.97,278.7 783.20,268.8 783.36,280.6 783.59,277.1 783.66,276.3 783.81,282.7 783.96,271.1 784.12,270.5 784.27,283.5 784.42,269.8 784.57,296.2 784.86,267.8 785.09,291.7 785.23,271.2 785.38,289.8 785.53,269.5 785.60,289.5 786.04,281.6 786.11,271.5 786.40,277.8 786.48,267.8 786.62,274.9 786.91,269.2 786.98,276.0 787.19,270.3 787.48,268.1 787.62,274.5 787.76,271.0 787.97,285.1 788.11,266.6 788.25,284.0 788.53,267.7 788.60,292.4 788.88,271.4 789.01,291.9 789.22,269.3 789.29,296.2 789.43,283.1 789.63,272.1 789.97,283.7 790.04,271.6 790.24,270.8 790.38,280.2 790.58,277.7 790.71,268.2 790.91,293.7 790.98,268.4 791.31,279.7 791.38,266.7 791.44,272.9 791.57,296.2 791.77,271.1 792.03,284.5 792.16,280.2 792.23,270.0 792.49,277.1 792.62,239.9 792.87,270.4 793.00,289.7 793.13,272.2 793.20,288.4 793.39,268.2 793.58,278.8 793.77,269.2 793.83,288.9 794.15,284.5 794.21,270.6 794.40,290.4 794.58,272.2 794.71,272.5 794.77,287.7 794.96,267.8 795.14,296.2 795.26,272.2 795.51,296.2 795.57,266.6 795.69,282.2 795.94,274.3 796.00,278.9 796.30,282.5 796.36,272.0 796.48,268.5 796.66,278.0 796.78,288.8 797.02,272.3 797.20,270.5 797.32,289.0 797.61,290.7 797.67,269.1 797.97,270.8 798.08,278.0 798.20,296.2 798.38,267.2 798.61,296.2 798.78,273.0 799.07,270.7 799.18,284.4 799.30,269.4 799.53,285.3 799.64,266.9 799.87,282.6 799.92,268.5 800.09,289.7 800.37,268.9 800.54,286.4 800.60,267.6 800.65,285.7 801.04,266.5 801.21,286.5 801.38,269.5 801.43,280.9 801.76,296.2 801.87,266.9 801.92,268.6 802.03,278.7 802.30,271.0 802.36,296.2 802.68,262.1 802.79,280.1 803.00,295.9 803.16,268.1 803.32,276.0 803.48,271.6 803.64,266.3 803.80,276.1 803.96,269.4 804.12,275.7 804.17,269.4 804.27,293.0 804.53,271.7 804.69,291.1 804.95,293.4 805.00,272.4 805.31,291.2 805.36,269.3 805.41,267.8 805.67,281.6 805.82,269.4 805.87,288.3 806.07,268.3 806.12,296.2 806.32,291.9 806.37,269.6 806.68,296.2 806.92,267.4 807.12,269.0 807.22,282.7 807.42,283.7 807.52,266.2 807.77,293.7 807.96,269.5 808.20,268.7 808.30,290.1 808.45,272.2 808.54,283.3 808.83,269.8 808.93,281.3 809.22,289.0 809.26,267.1 809.46,294.4 809.65,271.0 809.69,289.3 809.79,271.7 810.07,266.9 810.12,296.2 810.40,283.4 810.63,271.3 810.91,268.3 810.96,283.6 811.05,284.1 811.19,260.8 811.33,271.2 811.60,296.2 811.78,270.0 811.92,296.2 812.19,290.8 812.24,269.3 812.37,271.2 812.55,295.0 812.82,289.2 812.87,270.8 813.09,270.6 813.18,292.1 813.36,267.7 813.40,295.0 813.53,266.9 813.71,295.6 814.06,296.2 814.11,266.2 814.15,271.6 814.24,281.3 814.58,267.2 814.67,295.5 814.80,292.4 815.02,269.7 815.14,270.4 815.36,283.2 815.44,284.1 815.70,266.4 815.78,270.1 815.91,290.7 816.08,296.2 816.25,269.0 816.46,268.7 816.67,296.2 816.83,269.8 817.00,292.9 817.21,273.6 817.25,296.2 817.41,285.7 817.54,272.0 817.87,270.1 818.03,281.8 818.11,296.2 818.27,267.5 818.43,281.8 818.51,261.0 818.84,292.3 818.96,274.9 819.20,272.8 819.28,288.8 819.47,272.4 819.59,296.2 819.79,293.0 819.87,273.8 820.03,296.2 820.11,269.7 820.38,268.3 820.42,277.2 820.73,279.7 820.88,269.4 820.92,295.9 821.12,267.5 821.27,272.7 821.35,296.2 821.73,267.8 821.77,278.0 822.03,268.0 822.11,284.5 822.33,271.8 822.41,281.1 822.63,291.9 822.75,272.4 823.01,270.1 823.04,293.3 823.16,271.2 823.27,280.6 823.45,270.6 823.75,286.5 823.93,296.2 824.04,267.8 824.29,266.9 824.33,294.0 824.55,266.6 824.66,296.2 824.91,279.6 825.02,253.3 825.30,287.8 825.34,269.0 825.52,296.2 825.62,273.5 825.83,293.7 825.91,269.8 826.08,266.2 826.33,292.8 826.47,279.8 826.57,266.6 826.75,296.2 826.92,271.9 827.02,296.2 827.09,268.3 827.44,267.2 827.47,288.3 827.64,269.5 827.68,296.2 828.05,269.6 828.12,288.9 828.25,272.1 828.39,288.0 828.52,296.2 828.69,268.5 828.86,287.8 828.89,267.1 829.33,267.0 829.36,285.3 829.56,270.0 829.72,287.4 829.79,272.8 830.08,296.2 830.28,285.1 830.34,266.8 830.57,286.6 830.60,267.0 830.83,263.6 830.93,292.0 831.15,270.4 831.28,291.0 831.57,269.7 831.69,288.5 831.73,296.2 832.01,269.8 832.07,267.2 832.33,296.2 832.51,272.8 832.58,286.5 832.70,287.3 832.86,266.7 833.04,285.5 833.26,269.0 833.35,281.4 833.45,270.3 833.75,292.1 833.87,268.6 834.06,286.3 834.09,270.0 834.36,269.9 834.39,289.6 834.60,268.8 834.63,296.2 835.08,266.4 835.11,291.8 835.26,267.1 835.44,290.1 835.62,271.3 835.77,296.2 835.88,296.2 836.06,265.0 836.29,271.8 836.38,293.5 836.56,288.3 836.64,268.1 836.79,268.4 836.85,296.2 837.13,268.3 837.22,294.8 837.51,268.9 837.65,279.4 837.91,294.2 837.93,271.0 838.25,272.2 838.30,296.2 838.36,268.3 838.39,296.2 838.75,293.7 838.92,270.7 839.03,290.0 839.06,267.6 839.45,296.2 839.47,269.3 839.56,296.2 839.67,267.6 839.99,291.4 840.05,271.1 840.16,287.4 840.21,268.8 840.48,296.2 840.59,269.5 840.89,284.7 841.05,271.0 841.16,267.8 841.37,292.3 841.56,268.0 841.72,288.6 841.80,296.2 841.95,268.9 842.19,287.2 842.37,268.9 842.45,270.8 842.56,296.2 842.84,270.6 842.87,284.9 843.15,293.6 843.18,269.3 843.49,269.0 843.59,291.5 843.72,267.4 843.87,296.2 843.97,270.9 844.05,290.9 844.30,290.7 844.38,268.2 844.55,268.1 844.68,296.2 844.91,268.7 845.03,296.2 845.28,264.3 845.43,296.2 845.65,270.5 845.70,285.6 845.95,270.6 845.97,283.8 846.17,290.8 846.39,267.4 846.68,271.5 846.70,296.2 846.77,292.3 846.89,268.7 847.18,269.1 847.33,291.6 847.40,294.5 847.61,269.2 847.80,285.1 847.92,268.3 848.09,268.1 848.30,296.2 848.35,271.8 848.46,296.2 848.86,281.9 848.88,269.5 849.00,267.8 849.21,289.2 849.32,269.8 849.39,296.2 849.62,268.5 849.69,290.3 850.08,283.4 850.17,268.1 850.42,269.9 850.44,296.2 850.62,292.5 850.69,268.0 850.82,267.8 850.91,293.2 851.16,296.2 851.20,271.9 851.60,268.8 851.74,296.2 851.98,294.2 852.05,269.2 852.18,268.9 852.20,287.4 852.42,266.9 852.50,293.5 852.81,269.1 852.85,293.6 853.15,264.7 853.24,296.2 853.33,288.6 853.45,268.0 853.62,270.6 853.65,281.1 854.03,268.3 854.13,279.9 854.35,268.2 854.41,296.2 854.56,267.3 854.62,293.2 854.91,267.8 854.93,286.6 855.35,267.5 855.45,291.4 855.64,296.2 855.76,269.7 855.96,296.2 856.00,271.1 856.27,267.8 856.35,285.8 856.47,270.1 856.51,284.7 856.90,268.0 857.00,296.2 857.02,273.3 857.30,296.2 857.38,288.2 857.48,270.7 857.73,270.6 857.77,296.2 858.09,267.6 858.15,291.5 858.34,267.4 858.36,296.2 858.62,270.5 858.77,296.2 858.91,269.1 859.16,296.2 859.22,269.1 859.37,295.7 859.62,292.5 859.74,268.3 859.95,296.2 859.97,268.2 860.25,271.1 860.27,296.2 860.51,296.2 860.65,270.2 860.78,274.1 860.96,296.2 861.04,296.2 861.13,269.7 861.47,288.3 861.65,266.9 861.82,293.0 861.96,268.0 862.15,296.2 862.22,267.7 862.51,285.9 862.55,268.9 862.62,296.2 862.73,268.9 862.94,296.2 863.18,270.9 863.27,268.6 863.36,296.2 863.75,266.8 863.77,295.4 864.02,296.2 864.10,270.8 864.24,269.9 864.33,296.2 864.60,269.5 864.70,296.2 864.77,269.5 865.01,289.7 865.15,268.7 865.19,287.3 865.60,289.3 865.63,270.2 865.74,270.8 865.96,296.2 866.11,296.2 866.23,268.8 866.35,290.2 866.45,267.7 866.79,295.3 866.82,269.3 866.99,296.2 867.04,271.0 867.32,296.2 867.34,268.1 867.52,287.9 867.59,270.5 867.98,269.8 868.02,296.2 868.18,296.2 868.44,272.1 868.54,267.8 868.74,294.8 868.80,269.8 869.04,296.2 869.24,296.2 869.25,271.1 869.48,270.8 869.62,294.6 869.75,269.6 869.89,296.2 870.05,270.0 870.08,296.2 870.30,276.9 870.33,269.9"/>
<polyline stroke="#b8283c" stroke-opacity="0.8" stroke-width="0.7" points="572.56,296.2 573.03,296.2 573.50,296.2 573.97,296.2 574.45,294.6 574.92,293.2 575.39,292.4 575.86,292.0 576.33,292.0 576.80,292.4 577.27,293.2 577.75,294.6 578.22,296.2 578.69,296.2 579.16,296.2 579.63,296.2 579.63,296.2 580.08,296.2 580.53,296.2 580.98,296.2 581.44,295.2 581.89,293.7 582.34,292.7 582.79,292.1 583.24,291.7 583.69,291.7 584.14,292.1 584.59,292.7 585.04,293.7 585.49,295.2 585.95,296.2 586.40,296.2 586.85,296.2 587.30,296.2 587.30,296.2 587.77,296.2 588.23,296.2 588.70,293.7 589.17,291.6 589.64,290.4 590.10,289.7 590.57,289.4 591.04,289.7 591.51,290.4 591.98,291.6 592.44,293.7 592.91,296.2 593.38,296.2 593.85,296.2 593.85,296.2 594.32,292.3 594.79,286.4 595.26,283.2 595.73,281.2 596.20,280.1 596.67,279.6 597.14,279.6 597.61,280.1 598.08,281.2 598.55,283.2 599.02,286.4 599.50,292.3 599.97,296.2 599.97,296.2 600.44,296.2 600.91,291.3 601.38,288.3 601.85,286.6 602.32,285.9 602.79,285.9 603.26,286.6 603.74,288.3 604.21,291.3 604.68,296.2 605.15,296.2 605.15,296.2 605.64,296.2 606.12,291.8 606.61,288.8 607.10,287.1 607.58,286.4 608.07,286.4 608.56,287.1 609.04,288.8 609.53,291.8 610.01,296.2 610.50,296.2 610.50,296.2 610.97,296.2 611.44,293.8 611.91,290.5 612.38,288.4 612.84,287.0 613.31,286.1 613.78,285.7 614.25,285.7 614.72,286.1 615.19,287.0 615.66,288.4 616.13,290.5 616.59,293.8 617.06,296.2 617.53,296.2 617.53,296.2 617.99,295.9 618.44,290.0 618.89,286.8 619.35,284.9 619.80,283.7 620.26,283.2 620.71,283.2 621.17,283.7 621.62,284.9 622.08,286.8 622.53,290.0 622.98,295.9 623.44,296.2 623.44,296.2 623.90,294.6 624.36,288.6 624.82,285.4 625.28,283.5 625.75,282.3 626.21,281.8 626.67,281.8 627.13,282.3 627.59,283.5 628.05,285.4 628.52,288.6 628.98,294.6 629.44,296.2 629.44,296.2 629.90,291.4 630.36,285.6 630.83,282.8 631.29,281.3 631.75,280.9 632.21,281.3 632.67,282.8 633.14,285.6 633.60,291.4 634.06,296.2 634.06,296.2 634.52,287.0 634.97,281.2 635.42,278.2 635.88,276.5 636.33,275.7 636.79,275.7 637.24,276.5 637.70,278.2 638.15,281.2 638.61,287.0 639.06,296.2 639.06,296.2 639.53,294.9 640.00,289.0 640.47,286.0 640.95,284.3 641.42,283.6 641.89,283.6 642.36,284.3 642.83,286.0 643.30,289.0 643.77,294.9 644.24,296.2 644.24,296.2 644.72,291.8 645.19,286.0 645.67,282.9 646.15,281.3 646.62,280.5 647.10,280.5 647.58,281.3 648.05,282.9 648.53,286.0 649.01,291.8 649.48,296.2 649.48,296.2 649.96,291.7 650.44,285.9 650.92,283.0 651.40,281.6 651.87,281.1 652.35,281.6 652.83,283.0 653.31,285.9 653.78,291.7 654.26,296.2 654.26,296.2 654.76,281.9 655.25,276.2 655.75,273.5 656.24,272.4 656.74,272.4 657.23,273.5 657.73,276.2 658.22,281.9 658.72,296.2 659.43,275.7 660.15,272.7 660.86,272.5 661.56,274.5 662.25,273.6 662.93,276.7 663.61,273.7 664.28,271.6 664.94,288.4 665.59,268.7 666.23,277.0 666.87,285.5 667.50,284.9 668.12,277.7 668.74,291.1 669.35,276.2 669.95,276.0 670.54,272.9 671.13,275.3 671.72,268.7 672.29,272.9 672.86,278.3 673.43,269.9 673.99,272.4 674.54,267.8 675.09,271.9 675.63,267.9 676.17,282.2 676.70,279.6 677.23,267.6 677.75,296.2 678.27,269.0 678.78,269.3 679.29,285.7 679.79,284.8 680.29,269.2 680.78,268.1 681.27,270.0 681.76,272.1 682.24,271.6 682.72,278.6 683.19,296.2 683.66,273.2 684.12,269.8 684.58,268.4 685.04,274.6 685.50,296.2 685.94,283.6 686.39,275.5 686.83,281.2 687.27,296.2 687.71,282.8 688.14,274.8 688.57,286.3 688.99,287.2 689.42,279.6 689.83,286.9 690.25,269.6 690.66,268.2 691.07,277.7 691.48,270.8 691.88,267.3 692.28,276.0 692.68,274.1 693.08,266.4 693.47,267.9 693.86,269.3 694.24,266.9 694.63,269.3 695.01,272.6 695.39,267.3 695.76,265.7 696.14,280.1 696.51,271.1 696.88,271.2 697.24,262.6 697.61,270.4 697.97,264.6 698.33,267.2 698.68,267.5 699.04,265.2 699.39,259.4 699.74,262.0 700.09,264.8 700.43,269.1 700.77,264.0 701.12,261.2 701.45,258.0 701.79,249.8 702.13,259.9 702.46,249.6 702.79,253.9 703.12,220.8 703.45,187.7 703.77,154.6 704.09,121.6 704.41,154.6 704.73,187.7 705.05,220.8 705.37,253.9 705.68,269.7 705.99,255.7 706.30,270.1 706.61,259.2 706.92,253.7 707.22,262.2 707.53,265.3 707.83,271.5 708.13,266.9 708.43,267.2 708.73,272.9 709.02,263.3 709.31,265.0 709.61,264.1 709.90,275.4 710.19,271.6 710.47,262.2 710.76,288.1 711.04,270.7 711.33,265.2 711.61,274.0 711.89,274.5 712.17,268.5 712.45,274.4 712.72,273.2 713.00,272.6 713.27,274.4 713.54,269.7 713.81,269.0 714.08,269.0 714.35,264.9 714.62,282.6 714.88,276.7 715.15,265.2 715.41,269.6 715.67,270.4 715.93,281.5 716.19,286.2 716.45,279.7 716.71,269.6 716.96,271.7 717.22,277.0 717.47,272.9 717.72,271.9 717.97,279.3 718.22,287.7 718.47,270.9 718.72,272.3 718.96,271.0 719.21,271.8 719.45,277.0 719.70,272.9 719.94,277.0 720.18,269.4 720.42,286.5 720.66,272.4 720.90,277.5 721.13,269.3 721.37,271.0 721.61,283.6 721.84,296.2 722.07,281.1 722.30,268.0 722.54,271.5 722.77,272.3 722.99,282.1 723.22,281.9 723.45,275.6 723.68,274.4 723.90,273.4 724.13,292.3 724.35,270.4 724.57,280.7 724.79,272.2 725.01,278.4 725.23,279.0 725.45,270.0 725.67,281.8 725.89,274.8 726.10,269.9 726.32,270.7 726.54,272.1 726.75,280.8 726.96,273.2 727.17,275.2 727.39,278.7 727.60,271.4 727.81,272.7 728.02,269.6 728.22,275.8 728.43,285.2 728.64,279.8 728.84,271.9 729.05,272.3 729.25,273.1 729.46,276.2 729.66,273.8 729.86,291.2 730.06,289.0 730.26,271.0 730.46,287.3 730.66,273.3 730.86,278.9 731.06,283.8 731.26,271.3 731.45,269.8 731.65,278.4 731.84,284.8 732.04,275.3 732.23,287.2 732.42,268.0 732.62,296.2 732.81,274.7 733.00,284.2 733.19,296.2 733.38,266.1 733.57,272.6 733.76,272.3 733.94,271.5 734.13,271.2 734.32,273.5 734.50,272.8 734.69,278.4 734.87,287.9 735.06,272.0 735.24,271.9 735.42,271.9 735.60,273.0 735.79,289.5 735.97,273.0 736.15,289.4 736.33,270.0 736.51,296.2 736.68,280.0 736.86,274.4 737.04,270.0 737.22,272.9 737.39,286.0 737.57,272.0 737.74,282.1 737.92,277.8 738.09,277.2 738.27,271.1 738.44,282.1 738.61,278.2 738.78,279.5 738.95,280.8 739.13,281.8 739.30,276.5 739.47,283.4 739.63,280.2 739.80,286.7 739.97,273.8 740.14,272.4 740.31,281.0 740.47,275.5 740.64,273.6 740.81,267.4 740.97,267.8 741.14,287.3 741.30,268.5 741.46,271.0 741.63,281.4 741.79,279.2 741.95,260.6 742.11,242.0 742.27,260.6 742.43,276.1 742.60,274.3 742.76,274.3 742.91,296.2 743.07,275.8 743.23,281.5 743.39,269.2 743.55,285.2 743.70,286.0 743.86,277.3 744.02,280.5 744.17,270.7 744.33,295.6 744.48,268.9 744.64,273.5 744.79,271.9 744.95,280.2 745.10,274.6 745.25,281.7 745.40,271.6 745.56,274.3 745.71,280.2 745.86,278.5 746.01,296.2 746.16,289.4 746.31,273.7 746.46,265.7 746.76,277.9 747.05,273.0 747.35,271.2 747.49,282.4 747.79,268.6 747.93,279.3 748.08,272.5 748.22,275.5 748.65,267.6 748.80,274.0 748.94,266.6 749.08,279.9 749.51,277.7 749.65,266.9 749.79,284.7 749.93,270.3 750.35,275.0 750.49,270.3 750.63,296.2 750.77,268.8 751.18,296.2 751.31,271.2 751.45,296.2 751.59,270.6 751.99,273.4 752.13,266.9 752.26,293.9 752.53,265.8 752.66,295.9 752.93,277.2 753.20,272.6 753.33,276.6 753.59,277.9 753.72,276.8 753.98,269.7 754.11,274.2 754.24,279.5 754.37,267.8 754.76,271.9 754.89,274.7 755.01,279.8 755.27,272.0 755.40,267.8 755.65,275.5 755.78,273.1 756.03,280.2 756.15,270.5 756.40,278.0 756.65,272.5 756.78,296.2 757.02,294.2 757.15,269.8 757.39,294.6 757.51,269.4 757.64,272.8 757.88,280.8 758.12,284.7 758.24,269.0 758.48,271.5 758.60,267.1 758.72,267.7 758.96,296.2 759.20,286.6 759.32,275.9 759.43,270.3 759.67,274.0 759.90,292.4 760.02,272.8 760.25,275.9 760.37,296.2 760.48,270.7 760.60,284.8 760.83,275.4 760.95,286.2 761.17,269.5 761.40,296.2 761.52,274.7 761.74,269.3 761.86,272.8 761.97,266.7 762.19,274.0 762.42,268.6 762.64,282.9 762.75,269.0 762.86,274.3 762.97,271.7 763.30,274.4 763.41,296.2 763.52,274.7 763.74,292.3 763.96,274.3 764.07,292.9 764.18,272.8 764.39,236.1 764.50,217.5 764.72,254.7 764.82,273.3 765.04,271.7 765.14,280.4 765.35,267.1 765.57,275.7 765.67,278.1 765.78,296.2 765.99,272.2 766.20,279.8 766.30,273.2 766.40,296.1 766.51,275.0 766.72,282.5 766.92,269.9 767.13,271.6 767.23,285.1 767.43,273.9 767.54,269.7 767.64,268.3 767.74,275.6 767.94,269.9 768.04,273.6 768.24,278.2 768.44,276.0 768.64,292.4 768.74,276.1 768.94,271.8 769.04,296.2 769.34,278.6 769.63,270.1 769.83,289.9 769.93,273.3 770.12,289.8 770.41,273.8 770.60,282.3 770.70,272.6 770.99,271.9 771.08,280.1 771.37,272.2 771.46,294.0 771.65,284.9 771.94,273.6 772.03,271.9 772.22,280.0 772.59,269.1 772.68,296.2 772.87,296.2 773.05,273.5 773.15,269.0 773.42,294.6 773.51,283.7 773.79,272.8 773.97,287.9 774.06,271.4 774.33,281.0 774.42,272.7 774.69,282.1 774.87,270.1 774.95,294.7 775.22,267.5 775.31,273.6 775.40,279.8 775.84,282.0 775.92,272.9 776.19,281.7 776.27,270.6 776.53,273.2 776.62,277.5 776.79,270.9 776.88,284.5 777.22,279.1 777.31,272.1 777.48,292.9 777.56,268.5 777.82,282.4 777.98,268.8 778.07,275.3 778.24,294.7 778.40,271.7 778.57,296.2 778.82,277.8 778.99,272.4 779.15,292.3 779.23,267.2 779.56,269.8 779.64,276.2 779.73,284.6 779.81,271.6 780.05,289.0 780.29,269.6 780.37,251.0 780.54,285.2 780.86,269.1 780.94,275.4 781.10,269.5 781.25,279.6 781.41,278.4 781.57,268.9 781.65,293.6 781.89,268.2 781.96,278.0 782.20,272.2 782.28,268.9 782.51,283.4 782.59,273.5 782.82,296.2 782.90,267.7 782.97,285.6 783.20,270.7 783.43,285.8 783.51,276.2 783.74,294.4 783.81,270.5 783.89,288.0 784.19,267.2 784.34,295.3 784.57,278.9 784.64,268.9 784.94,267.5 785.09,283.0 785.16,296.2 785.46,267.5 785.60,288.2 785.75,270.2 785.97,269.1 786.04,278.3 786.26,272.3 786.55,293.0 786.76,296.2 786.91,267.5 787.05,268.4 787.12,293.0 787.33,271.5 787.41,284.1 787.76,270.6 787.83,283.9 788.11,265.8 788.18,275.6 788.46,280.7 788.67,270.3 788.74,270.3 789.01,293.8 789.15,292.8 789.36,272.8 789.56,270.7 789.63,287.2 789.84,267.5 789.90,281.2 790.11,296.2 790.24,267.9 790.44,296.2 790.65,279.4 790.91,272.3 791.05,291.9 791.11,271.0 791.24,296.2 791.51,273.1 791.71,277.6 791.77,269.6 791.84,296.2 792.16,291.0 792.23,270.6 792.42,279.6 792.62,238.7 792.87,285.0 793.00,269.8 793.20,271.6 793.26,296.2 793.51,286.9 793.58,266.8 793.83,275.8 793.96,266.8 794.15,290.7 794.21,271.0 794.40,271.0 794.58,286.3 794.77,267.6 794.83,293.4 795.02,269.6 795.08,289.5 795.45,271.8 795.51,296.2 795.63,270.6 795.75,282.7 795.94,275.9 796.00,285.0 796.18,280.1 796.24,272.9 796.54,269.0 796.60,278.6 797.02,293.6 797.08,269.1 797.20,268.3 797.32,277.5 797.67,269.6 797.79,286.4 797.97,288.4 798.08,272.2 798.26,274.5 798.43,270.2 798.72,285.9 798.78,269.6 799.01,270.5 799.07,284.6 799.36,266.6 799.53,296.2 799.58,275.6 799.64,268.7 800.09,294.3 800.15,272.1 800.37,272.2 800.49,296.2 800.65,274.0 800.88,288.1 800.99,285.1 801.10,270.3 801.26,282.9 801.32,271.8 801.65,267.1 801.81,296.2 801.98,296.2 802.09,271.5 802.25,270.1 802.52,288.4 802.63,281.3 802.68,262.7 802.95,293.5 803.11,272.8 803.32,270.2 803.43,289.5 803.64,282.4 803.69,270.6 803.85,266.6 804.01,293.3 804.17,272.6 804.38,286.5 804.53,282.7 804.64,267.3 804.79,272.0 804.84,283.4 805.26,296.2 805.36,271.1 805.56,268.9 805.61,279.6 805.72,269.5 805.92,286.4 806.12,292.1 806.22,268.8 806.47,282.9 806.58,268.3 806.68,293.0 806.73,268.1 807.02,273.0 807.17,288.0 807.52,270.1 807.62,286.2 807.86,280.4 807.96,268.3 808.11,286.9 808.20,265.7 808.54,296.2 808.59,267.9 808.69,269.2 808.83,288.7 809.12,270.4 809.22,292.1 809.46,293.6 809.55,266.9 809.88,269.6 809.93,280.8 810.16,288.1 810.31,269.8 810.35,290.3 810.59,267.1 810.73,293.2 810.96,268.3 811.19,260.3 811.23,278.9 811.42,268.0 811.60,286.3 811.65,270.8 811.83,296.2 811.97,271.0 812.10,296.2 812.37,267.9 812.46,296.2 812.69,291.9 812.87,266.1 812.91,267.6 813.00,287.9 813.22,296.2 813.27,268.7 813.67,269.8 813.71,288.3 814.02,289.6 814.06,269.5 814.15,267.4 814.28,284.5 814.50,296.2 814.63,272.4 814.76,272.4 814.93,283.0 815.10,269.0 815.19,288.8 815.53,294.0 815.66,269.0 815.83,284.9 815.87,266.8 816.21,292.2 816.25,268.7 816.58,268.2 816.71,296.2 816.79,267.7 817.04,288.7 817.17,271.6 817.33,283.2 817.66,278.3 817.70,266.9 817.91,278.0 817.99,267.5 818.23,268.3 818.35,281.0 818.51,261.8 818.60,287.7 818.80,280.5 818.92,268.8 819.24,277.2 819.28,270.2 819.51,269.3 819.59,287.5 819.71,270.0 819.79,289.4 820.07,296.2 820.14,269.6 820.42,267.7 820.50,279.1 820.77,296.2 820.85,270.4 820.92,294.8 821.00,269.6 821.27,268.3 821.31,292.1 821.58,269.7 821.77,284.3 821.92,293.2 821.99,269.6 822.22,296.2 822.26,266.6 822.52,289.5 822.63,268.6 822.78,282.8 822.97,270.3 823.23,270.6 823.30,289.1 823.60,291.7 823.71,268.1 823.82,269.5 823.93,291.0 824.15,294.2 824.26,267.0 824.66,269.4 824.69,296.2 824.80,281.2 825.02,253.8 825.12,267.1 825.19,287.8 825.41,269.3 825.66,296.2 825.80,269.2 825.91,296.2 826.05,281.0 826.26,269.9 826.47,291.2 826.50,268.8 826.68,269.1 826.82,284.5 827.09,269.7 827.20,291.0 827.33,296.2 827.47,268.9 827.64,270.5 827.85,289.2 828.05,270.0 828.19,286.5 828.29,287.8 828.49,267.6 828.59,268.4 828.62,296.2 828.96,285.0 829.03,269.9 829.19,266.6 829.26,293.8 829.52,268.6 829.75,291.3 829.79,271.0 829.89,293.7 830.34,296.2 830.41,270.8 830.60,288.8 830.67,268.9 830.83,263.9 830.93,290.5 831.09,287.8 831.28,269.3 831.41,296.2 831.69,267.2 831.82,293.3 831.88,269.1 832.04,269.9 832.29,286.3 832.51,296.2 832.61,269.0 832.76,296.2 832.89,271.1 833.11,269.4 833.26,288.2 833.51,268.5 833.57,284.5 833.60,295.9 833.78,267.0 833.91,285.2 833.97,268.1 834.27,269.5 834.48,288.7 834.69,271.1 834.78,283.6 834.84,270.0 835.08,296.2 835.14,287.3 835.26,267.5 835.53,269.9 835.71,296.2 835.79,296.2 836.06,265.4 836.18,283.9 836.29,269.1 836.59,286.2 836.70,269.9 836.79,296.2 837.02,270.9 837.25,269.1 837.31,291.1 837.51,269.1 837.65,289.9 837.79,296.2 837.91,269.5 838.27,270.2 838.30,291.5 838.58,283.8 838.61,271.0 838.81,284.6 838.86,271.4 839.11,272.4 839.20,289.9 839.42,296.2 839.53,270.7 839.72,267.9 839.83,296.2 840.02,269.6 840.05,289.4 840.27,266.9 840.29,277.8 840.57,271.8 840.59,286.2 840.94,293.3 841.02,267.4 841.34,296.2 841.37,268.3 841.45,296.2 841.74,269.2 841.93,293.0 841.98,271.4 842.14,281.8 842.30,267.8 842.40,266.8 842.43,296.2 842.84,288.3 842.97,271.3 843.13,296.2 843.26,269.5 843.46,269.8 843.59,294.3 843.67,296.2 843.77,266.6 844.10,267.4 844.20,296.2 844.25,271.0 844.30,286.7 844.58,290.3 844.68,269.6 845.03,266.7 845.11,294.8 845.28,264.7 845.45,292.3 845.50,269.9 845.72,291.4 845.85,267.7 845.90,295.5 846.19,267.4 846.43,296.2 846.65,289.1 846.72,269.0 846.92,277.8 846.97,269.0 847.21,296.2 847.37,268.3 847.40,285.1 847.54,269.8 847.83,287.6 847.97,268.1 848.16,268.6 848.25,296.2 848.32,296.2 848.44,270.1 848.67,286.7 848.79,269.3 849.18,272.2 849.21,291.2 849.35,271.1 849.46,289.1 849.62,267.6 849.78,282.0 849.96,270.2 849.99,296.2 850.19,296.2 850.40,268.6 850.53,269.3 850.62,288.1 850.82,292.2 850.91,266.7 851.16,271.2 851.34,292.4 851.60,296.2 851.71,269.9 851.94,267.8 851.96,291.4 852.29,287.8 852.33,269.6 852.40,296.2 852.46,271.0 852.70,269.6 852.96,291.1 853.09,294.2 853.15,265.0 853.33,267.9 853.43,283.4 853.80,296.2 853.90,266.6 854.13,296.2 854.18,269.3 854.26,267.7 854.28,296.2 854.70,269.6 854.77,286.9 855.02,269.8 855.14,296.2 855.37,272.4 855.47,295.9 855.64,269.2 855.74,296.2 856.00,296.2 856.03,268.7 856.29,296.2 856.33,267.6 856.41,268.8 856.45,296.2 856.74,296.2 857.00,267.3 857.24,268.1 857.26,292.5 857.32,294.6 857.44,268.2 857.79,296.2 857.85,269.4 857.95,296.2 857.97,269.5 858.38,296.2 858.40,271.1 858.66,267.6 858.83,295.8 858.91,296.2 859.05,271.2 859.32,268.5 859.43,293.4 859.55,268.6 859.78,296.2 859.83,288.6 860.10,267.4 860.14,270.4 860.25,296.2 860.42,270.4 860.44,294.1 860.85,271.0 860.95,292.2 861.15,267.8 861.34,295.5 861.50,290.5 861.63,267.3 861.78,296.2 861.80,269.5 862.09,271.7 862.18,296.2 862.35,271.2 862.42,296.2 862.60,267.2 862.64,296.2 863.00,268.1 863.05,288.8 863.46,269.2 863.50,284.2 863.59,269.6 863.61,287.7 863.93,270.0 863.98,296.2 864.28,270.1 864.35,292.9 864.61,268.6 864.65,296.2 864.89,296.2 864.94,270.5 865.13,288.9 865.27,269.5 865.50,268.4 865.60,290.1 865.74,267.5 865.77,296.2 866.13,269.2 866.23,286.4 866.30,294.2 866.45,267.9 866.65,296.2 866.82,267.5 867.09,269.1 867.19,293.2 867.22,270.6 867.36,296.2 867.69,268.7 867.79,292.7 868.00,268.2 868.05,291.2 868.25,269.1 868.36,288.4 868.59,290.1 868.61,269.7 868.85,296.2 868.96,269.0 869.16,296.2 869.36,268.5 869.49,268.7 869.64,295.4 869.72,269.9 869.81,289.7 870.10,270.3 870.16,296.2 870.30,271.0 870.35,281.9"/>
</g>
<rect x="488.5" y="86.4" width="380.50" height="206.80" fill="none" stroke="#7f7f7f" stroke-width="1.1"/>
<text x="485.00" y="88.80" font-size="8.9" text-anchor="end" fill="#222" >100</text>
<text x="485.00" y="109.48" font-size="8.9" text-anchor="end" fill="#222" >10</text>
<text x="485.00" y="130.16" font-size="8.9" text-anchor="end" fill="#222" >1</text>
<text x="485.00" y="150.84" font-size="8.9" text-anchor="end" fill="#222" >100m</text>
<text x="485.00" y="171.52" font-size="8.9" text-anchor="end" fill="#222" >10m</text>
<text x="485.00" y="192.20" font-size="8.9" text-anchor="end" fill="#222" >1m</text>
<text x="485.00" y="212.88" font-size="8.9" text-anchor="end" fill="#222" >100u</text>
<text x="485.00" y="233.56" font-size="8.9" text-anchor="end" fill="#222" >10u</text>
<text x="485.00" y="254.24" font-size="8.9" text-anchor="end" fill="#222" >1u</text>
<text x="485.00" y="274.92" font-size="8.9" text-anchor="end" fill="#222" >100n</text>
<text x="485.00" y="295.60" font-size="8.9" text-anchor="end" fill="#222" >10n</text>
<text x="488.20" y="304.40" font-size="8.9" text-anchor="middle" fill="#222" >20</text>
<text x="510.53" y="304.40" font-size="8.9" text-anchor="middle" fill="#222" >30</text>
<text x="538.67" y="304.40" font-size="8.9" text-anchor="middle" fill="#222" >50</text>
<text x="576.85" y="304.40" font-size="8.9" text-anchor="middle" fill="#222" >100</text>
<text x="615.03" y="304.40" font-size="8.9" text-anchor="middle" fill="#222" >200</text>
<text x="637.37" y="304.40" font-size="8.9" text-anchor="middle" fill="#222" >300</text>
<text x="665.51" y="304.40" font-size="8.9" text-anchor="middle" fill="#222" >500</text>
<text x="703.69" y="304.40" font-size="8.9" text-anchor="middle" fill="#222" >1k</text>
<text x="741.87" y="304.40" font-size="8.9" text-anchor="middle" fill="#222" >2k</text>
<text x="764.20" y="304.40" font-size="8.9" text-anchor="middle" fill="#222" >3k</text>
<text x="792.34" y="304.40" font-size="8.9" text-anchor="middle" fill="#222" >5k</text>
<text x="830.52" y="304.40" font-size="8.9" text-anchor="middle" fill="#222" >10k</text>
<text x="868.70" y="304.40" font-size="8.9" text-anchor="middle" fill="#222" >20k</text>
<text x="649.20" y="313.00" font-size="9.3" text-anchor="start" fill="#222" textLength="59.2" lengthAdjust="spacingAndGlyphs">Frequency (Hz)</text>
<text transform="translate(459.3,214.2) rotate(-90)" font-size="9.3" textLength="48.2" lengthAdjust="spacingAndGlyphs" fill="#151515">Level (Vrms)</text>
<text x="678.30" y="83.00" font-size="7.6" text-anchor="middle" font-weight="bold" fill="#222" font-family="'Liberation Mono',monospace" letter-spacing="0.2">FFT</text>
<rect x="442.30" y="321.9" width="1.8" height="1.8" rx="0.5" fill="#a9d2ea"/>
<rect x="446.60" y="321.9" width="1.8" height="1.8" rx="0.5" fill="#a9d2ea"/>
<rect x="450.90" y="321.9" width="1.8" height="1.8" rx="0.5" fill="#a9d2ea"/>
</svg>
</div></body></html>
